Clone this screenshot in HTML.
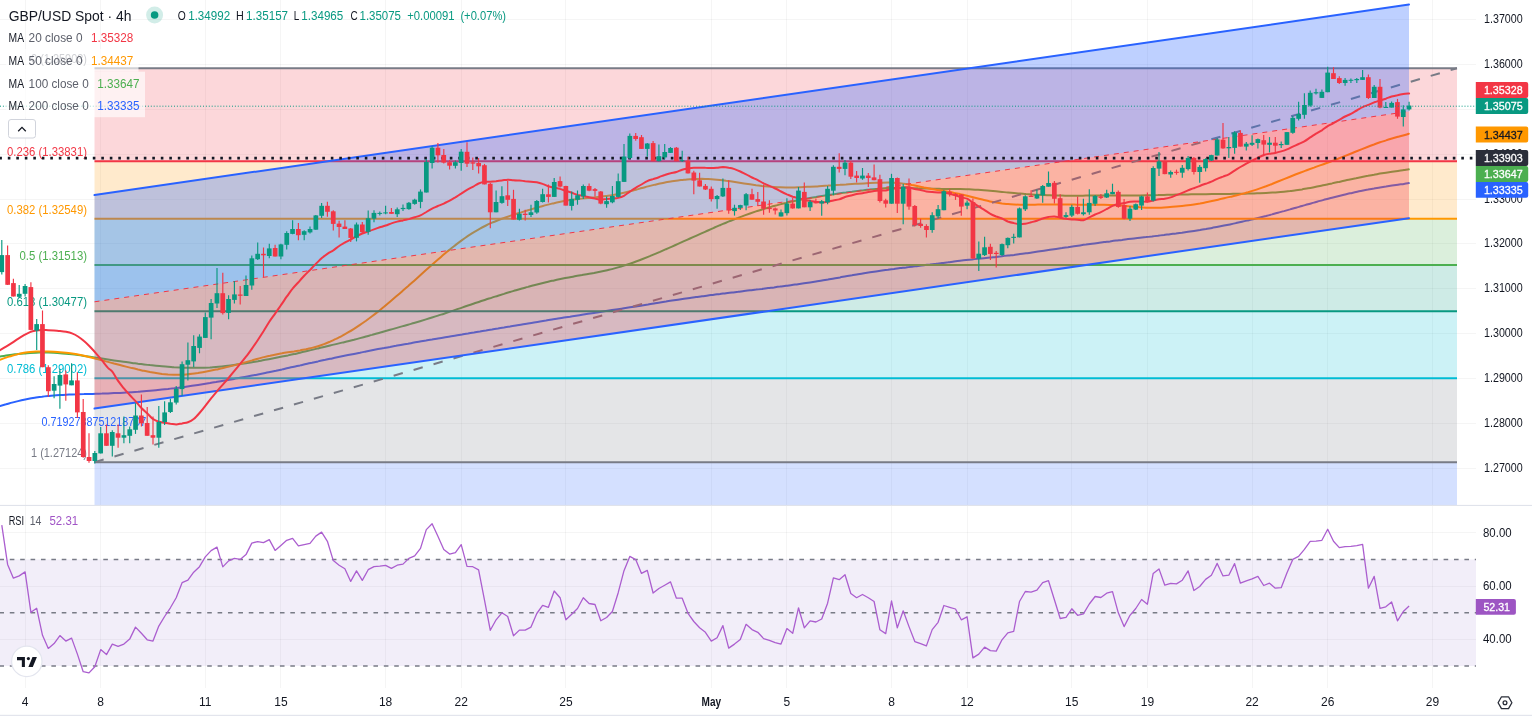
<!DOCTYPE html>
<html lang="en"><head><meta charset="utf-8"><title>GBP/USD Spot 4h</title>
<style>html,body{margin:0;padding:0;background:#fff;overflow:hidden}svg{display:block}text{font-family:'Liberation Sans', sans-serif;white-space:pre}</style>
</head><body>
<svg width="1536" height="718" viewBox="0 0 1536 718">
<rect width="1536" height="718" fill="#ffffff"/>
<defs><clipPath id="cm"><rect x="0" y="0" width="1476" height="505"/></clipPath><clipPath id="cr"><rect x="0" y="506" width="1476" height="183"/></clipPath></defs>
<g stroke="#131722" stroke-opacity="0.042" stroke-width="1" shape-rendering="crispEdges"><line x1="25.1" y1="0" x2="25.1" y2="688"/><line x1="100.7" y1="0" x2="100.7" y2="688"/><line x1="205.3" y1="0" x2="205.3" y2="688"/><line x1="280.9" y1="0" x2="280.9" y2="688"/><line x1="385.6" y1="0" x2="385.6" y2="688"/><line x1="461.2" y1="0" x2="461.2" y2="688"/><line x1="565.9" y1="0" x2="565.9" y2="688"/><line x1="711.3" y1="0" x2="711.3" y2="688"/><line x1="786.9" y1="0" x2="786.9" y2="688"/><line x1="891.5" y1="0" x2="891.5" y2="688"/><line x1="967.1" y1="0" x2="967.1" y2="688"/><line x1="1071.8" y1="0" x2="1071.8" y2="688"/><line x1="1147.4" y1="0" x2="1147.4" y2="688"/><line x1="1252.1" y1="0" x2="1252.1" y2="688"/><line x1="1327.7" y1="0" x2="1327.7" y2="688"/><line x1="1432.4" y1="0" x2="1432.4" y2="688"/><line x1="0" y1="19.4" x2="1476" y2="19.4"/><line x1="0" y1="64.3" x2="1476" y2="64.3"/><line x1="0" y1="109.2" x2="1476" y2="109.2"/><line x1="0" y1="154.1" x2="1476" y2="154.1"/><line x1="0" y1="199.0" x2="1476" y2="199.0"/><line x1="0" y1="243.9" x2="1476" y2="243.9"/><line x1="0" y1="288.8" x2="1476" y2="288.8"/><line x1="0" y1="333.7" x2="1476" y2="333.7"/><line x1="0" y1="378.6" x2="1476" y2="378.6"/><line x1="0" y1="423.5" x2="1476" y2="423.5"/><line x1="0" y1="468.4" x2="1476" y2="468.4"/><line x1="0" y1="532.9" x2="1476" y2="532.9"/><line x1="0" y1="586.1" x2="1476" y2="586.1"/><line x1="0" y1="639.4" x2="1476" y2="639.4"/></g>
<g clip-path="url(#cm)">
<path d="M0.0,406.0C1.0,405.7 4.0,404.8 6.0,404.3C8.0,403.7 10.0,403.2 12.0,402.6C14.0,402.1 16.0,401.6 18.0,401.1C20.0,400.6 22.0,400.1 24.0,399.7C26.0,399.3 28.0,398.9 30.0,398.5C32.0,398.2 34.0,397.8 36.0,397.5C38.0,397.2 40.0,396.9 42.0,396.7C44.0,396.4 46.0,396.2 48.0,396.0C50.0,395.8 52.0,395.7 54.0,395.5C56.0,395.3 58.0,395.2 60.0,395.1C62.0,395.0 64.0,394.8 66.0,394.7C68.0,394.6 70.0,394.6 72.0,394.5C74.0,394.4 76.0,394.3 78.0,394.3C80.0,394.2 82.0,394.1 84.0,394.1C86.0,394.0 88.0,394.0 90.0,393.9C92.0,393.9 94.0,393.8 96.0,393.7C98.0,393.7 100.0,393.6 102.0,393.6C104.0,393.5 106.0,393.4 108.0,393.4C110.0,393.3 112.0,393.2 114.0,393.1C116.0,393.0 118.0,393.0 120.0,392.9C122.0,392.8 124.0,392.7 126.0,392.5C128.0,392.4 130.0,392.3 132.0,392.2C134.0,392.1 136.0,391.9 138.0,391.8C140.0,391.6 142.0,391.5 144.0,391.3C146.0,391.2 148.0,391.0 150.0,390.8C152.0,390.6 154.0,390.4 156.0,390.2C158.0,390.1 160.0,389.8 162.0,389.6C164.0,389.4 166.0,389.2 168.0,389.0C170.0,388.7 172.0,388.5 174.0,388.3C176.0,388.0 178.0,387.8 180.0,387.5C182.0,387.2 184.0,387.0 186.0,386.7C188.0,386.4 190.0,386.1 192.0,385.8C194.0,385.5 196.0,385.2 198.0,384.9C200.0,384.6 202.0,384.3 204.0,384.0C206.0,383.7 208.0,383.4 210.0,383.1C212.0,382.7 214.0,382.4 216.0,382.1C218.0,381.7 220.0,381.4 222.0,381.0C224.0,380.7 226.0,380.3 228.0,380.0C230.0,379.6 232.0,379.3 234.0,378.9C236.0,378.5 238.0,378.2 240.0,377.8C242.0,377.4 244.0,377.1 246.0,376.7C248.0,376.3 250.0,375.9 252.0,375.5C254.0,375.2 256.0,374.8 258.0,374.4C260.0,374.0 262.0,373.6 264.0,373.2C266.0,372.8 268.0,372.3 270.0,371.9C272.0,371.5 274.0,371.1 276.0,370.7C278.0,370.2 280.0,369.8 282.0,369.4C284.0,368.9 286.0,368.5 288.0,368.0C290.0,367.6 292.0,367.1 294.0,366.7C296.0,366.3 298.0,365.8 300.0,365.4C302.0,364.9 304.0,364.5 306.0,364.0C308.0,363.6 310.0,363.1 312.0,362.7C314.0,362.2 316.0,361.8 318.0,361.4C320.0,360.9 322.0,360.5 324.0,360.1C326.0,359.6 328.0,359.2 330.0,358.8C332.0,358.4 334.0,357.9 336.0,357.5C338.0,357.1 340.0,356.7 342.0,356.3C344.0,355.9 346.0,355.5 348.0,355.1C350.0,354.7 352.0,354.3 354.0,353.9C356.0,353.5 358.0,353.1 360.0,352.7C362.0,352.2 364.0,351.9 366.0,351.5C368.0,351.1 370.0,350.7 372.0,350.3C374.0,349.9 376.0,349.5 378.0,349.1C380.0,348.7 382.0,348.3 384.0,348.0C386.0,347.6 388.0,347.2 390.0,346.9C392.0,346.5 394.0,346.1 396.0,345.8C398.0,345.4 400.0,345.1 402.0,344.7C404.0,344.3 406.0,344.0 408.0,343.7C410.0,343.3 412.0,343.0 414.0,342.6C416.0,342.3 418.0,341.9 420.0,341.6C422.0,341.3 424.0,340.9 426.0,340.6C428.0,340.2 430.0,339.9 432.0,339.6C434.0,339.2 436.0,338.9 438.0,338.5C440.0,338.2 442.0,337.9 444.0,337.5C446.0,337.2 448.0,336.8 450.0,336.5C452.0,336.2 454.0,335.8 456.0,335.5C458.0,335.2 460.0,334.8 462.0,334.5C464.0,334.1 466.0,333.8 468.0,333.5C470.0,333.1 472.0,332.8 474.0,332.5C476.0,332.1 478.0,331.8 480.0,331.5C482.0,331.1 484.0,330.8 486.0,330.5C488.0,330.1 490.0,329.8 492.0,329.5C494.0,329.1 496.0,328.8 498.0,328.5C500.0,328.1 502.0,327.8 504.0,327.5C506.0,327.1 508.0,326.8 510.0,326.5C512.0,326.1 514.0,325.8 516.0,325.5C518.0,325.2 520.0,324.8 522.0,324.5C524.0,324.2 526.0,323.8 528.0,323.5C530.0,323.2 532.0,322.9 534.0,322.5C536.0,322.2 538.0,321.9 540.0,321.5C542.0,321.2 544.0,320.9 546.0,320.6C548.0,320.2 550.0,319.9 552.0,319.6C554.0,319.3 556.0,318.9 558.0,318.6C560.0,318.3 562.0,318.0 564.0,317.6C566.0,317.3 568.0,317.0 570.0,316.7C572.0,316.3 574.0,316.0 576.0,315.7C578.0,315.4 580.0,315.1 582.0,314.7C584.0,314.4 586.0,314.1 588.0,313.8C590.0,313.5 592.0,313.2 594.0,312.9C596.0,312.6 598.0,312.2 600.0,311.9C602.0,311.6 604.0,311.3 606.0,311.0C608.0,310.7 610.0,310.4 612.0,310.1C614.0,309.8 616.0,309.5 618.0,309.2C620.0,308.9 622.0,308.6 624.0,308.2C626.0,307.9 628.0,307.6 630.0,307.3C632.0,307.0 634.0,306.7 636.0,306.4C638.0,306.1 640.0,305.7 642.0,305.4C644.0,305.1 646.0,304.8 648.0,304.5C650.0,304.1 652.0,303.8 654.0,303.5C656.0,303.2 658.0,302.8 660.0,302.5C662.0,302.2 664.0,301.9 666.0,301.6C668.0,301.2 670.0,300.9 672.0,300.6C674.0,300.3 676.0,300.0 678.0,299.7C680.0,299.4 682.0,299.1 684.0,298.8C686.0,298.5 688.0,298.2 690.0,297.9C692.0,297.6 694.0,297.4 696.0,297.1C698.0,296.8 700.0,296.6 702.0,296.3C704.0,296.0 706.0,295.8 708.0,295.5C710.0,295.2 712.0,295.0 714.0,294.7C716.0,294.5 718.0,294.2 720.0,294.0C722.0,293.7 724.0,293.5 726.0,293.2C728.0,293.0 730.0,292.8 732.0,292.5C734.0,292.3 736.0,292.0 738.0,291.8C740.0,291.5 742.0,291.3 744.0,291.0C746.0,290.8 748.0,290.6 750.0,290.3C752.0,290.1 754.0,289.8 756.0,289.6C758.0,289.3 760.0,289.1 762.0,288.9C764.0,288.6 766.0,288.4 768.0,288.1C770.0,287.9 772.0,287.6 774.0,287.4C776.0,287.1 778.0,286.8 780.0,286.6C782.0,286.3 784.0,286.1 786.0,285.8C788.0,285.5 790.0,285.3 792.0,285.0C794.0,284.7 796.0,284.5 798.0,284.2C800.0,283.9 802.0,283.6 804.0,283.3C806.0,283.0 808.0,282.7 810.0,282.4C812.0,282.1 814.0,281.8 816.0,281.5C818.0,281.2 820.0,280.8 822.0,280.5C824.0,280.2 826.0,279.8 828.0,279.5C830.0,279.1 832.0,278.8 834.0,278.4C836.0,278.1 838.0,277.7 840.0,277.4C842.0,277.0 844.0,276.7 846.0,276.3C848.0,276.0 850.0,275.6 852.0,275.3C854.0,274.9 856.0,274.6 858.0,274.2C860.0,273.9 862.0,273.6 864.0,273.2C866.0,272.9 868.0,272.6 870.0,272.3C872.0,272.0 874.0,271.7 876.0,271.4C878.0,271.1 880.0,270.8 882.0,270.5C884.0,270.2 886.0,269.9 888.0,269.7C890.0,269.4 892.0,269.1 894.0,268.9C896.0,268.6 898.0,268.4 900.0,268.1C902.0,267.9 904.0,267.6 906.0,267.4C908.0,267.1 910.0,266.9 912.0,266.7C914.0,266.4 916.0,266.2 918.0,265.9C920.0,265.7 922.0,265.5 924.0,265.2C926.0,265.0 928.0,264.7 930.0,264.5C932.0,264.2 934.0,264.0 936.0,263.8C938.0,263.5 940.0,263.3 942.0,263.0C944.0,262.8 946.0,262.5 948.0,262.3C950.0,262.0 952.0,261.8 954.0,261.5C956.0,261.3 958.0,261.1 960.0,260.8C962.0,260.6 964.0,260.4 966.0,260.1C968.0,259.9 970.0,259.7 972.0,259.5C974.0,259.2 976.0,259.0 978.0,258.8C980.0,258.6 982.0,258.4 984.0,258.2C986.0,258.0 988.0,257.8 990.0,257.6C992.0,257.4 994.0,257.1 996.0,256.9C998.0,256.7 1000.0,256.5 1002.0,256.3C1004.0,256.0 1006.0,255.8 1008.0,255.6C1010.0,255.4 1012.0,255.1 1014.0,254.9C1016.0,254.6 1018.0,254.4 1020.0,254.1C1022.0,253.9 1024.0,253.6 1026.0,253.3C1028.0,253.0 1030.0,252.8 1032.0,252.5C1034.0,252.2 1036.0,251.9 1038.0,251.6C1040.0,251.3 1042.0,251.0 1044.0,250.7C1046.0,250.4 1048.0,250.1 1050.0,249.8C1052.0,249.5 1054.0,249.2 1056.0,248.9C1058.0,248.6 1060.0,248.3 1062.0,248.0C1064.0,247.7 1066.0,247.4 1068.0,247.2C1070.0,246.9 1072.0,246.6 1074.0,246.3C1076.0,246.0 1078.0,245.7 1080.0,245.4C1082.0,245.1 1084.0,244.8 1086.0,244.6C1088.0,244.3 1090.0,244.0 1092.0,243.7C1094.0,243.5 1096.0,243.2 1098.0,242.9C1100.0,242.6 1102.0,242.4 1104.0,242.1C1106.0,241.9 1108.0,241.6 1110.0,241.4C1112.0,241.1 1114.0,240.8 1116.0,240.6C1118.0,240.4 1120.0,240.1 1122.0,239.9C1124.0,239.6 1126.0,239.4 1128.0,239.1C1130.0,238.9 1132.0,238.7 1134.0,238.4C1136.0,238.2 1138.0,238.0 1140.0,237.7C1142.0,237.5 1144.0,237.3 1146.0,237.1C1148.0,236.8 1150.0,236.6 1152.0,236.4C1154.0,236.1 1156.0,235.9 1158.0,235.7C1160.0,235.4 1162.0,235.2 1164.0,235.0C1166.0,234.7 1168.0,234.5 1170.0,234.2C1172.0,234.0 1174.0,233.7 1176.0,233.5C1178.0,233.2 1180.0,232.9 1182.0,232.7C1184.0,232.4 1186.0,232.1 1188.0,231.8C1190.0,231.5 1192.0,231.2 1194.0,230.9C1196.0,230.6 1198.0,230.3 1200.0,230.0C1202.0,229.6 1204.0,229.3 1206.0,229.0C1208.0,228.6 1210.0,228.3 1212.0,227.9C1214.0,227.5 1216.0,227.2 1218.0,226.8C1220.0,226.4 1222.0,226.0 1224.0,225.6C1226.0,225.2 1228.0,224.8 1230.0,224.4C1232.0,224.0 1234.0,223.6 1236.0,223.1C1238.0,222.7 1240.0,222.3 1242.0,221.8C1244.0,221.4 1246.0,220.9 1248.0,220.4C1250.0,220.0 1252.0,219.5 1254.0,219.0C1256.0,218.5 1258.0,218.0 1260.0,217.5C1262.0,217.0 1264.0,216.5 1266.0,216.0C1268.0,215.4 1270.0,214.9 1272.0,214.4C1274.0,213.8 1276.0,213.3 1278.0,212.7C1280.0,212.2 1282.0,211.6 1284.0,211.1C1286.0,210.5 1288.0,209.9 1290.0,209.4C1292.0,208.8 1294.0,208.3 1296.0,207.7C1298.0,207.1 1300.0,206.6 1302.0,206.0C1304.0,205.4 1306.0,204.9 1308.0,204.3C1310.0,203.7 1312.0,203.2 1314.0,202.6C1316.0,202.0 1318.0,201.5 1320.0,200.9C1322.0,200.4 1324.0,199.8 1326.0,199.3C1328.0,198.8 1330.0,198.2 1332.0,197.7C1334.0,197.2 1336.0,196.7 1338.0,196.2C1340.0,195.7 1342.0,195.2 1344.0,194.7C1346.0,194.2 1348.0,193.8 1350.0,193.3C1352.0,192.9 1354.0,192.4 1356.0,192.0C1358.0,191.6 1360.0,191.1 1362.0,190.7C1364.0,190.3 1366.0,189.9 1368.0,189.6C1370.0,189.2 1372.0,188.8 1374.0,188.5C1376.0,188.1 1378.0,187.8 1380.0,187.4C1382.0,187.1 1384.0,186.8 1386.0,186.5C1388.0,186.2 1390.0,185.9 1392.0,185.6C1394.0,185.3 1396.0,185.0 1398.0,184.7C1400.0,184.4 1402.2,184.2 1404.0,183.9C1405.8,183.6 1408.0,183.2 1408.8,183.1" fill="none" stroke="#2962ff" stroke-width="2" stroke-linejoin="round" stroke-linecap="round"/>
<path d="M0.0,356.5C1.0,356.3 4.0,355.9 6.0,355.6C8.0,355.3 10.0,355.0 12.0,354.7C14.0,354.5 16.0,354.2 18.0,354.0C20.0,353.8 22.0,353.6 24.0,353.4C26.0,353.2 28.0,353.1 30.0,352.9C32.0,352.8 34.0,352.7 36.0,352.7C38.0,352.6 40.0,352.6 42.0,352.5C44.0,352.5 46.0,352.6 48.0,352.6C50.0,352.6 52.0,352.7 54.0,352.8C56.0,352.9 58.0,353.0 60.0,353.2C62.0,353.3 64.0,353.5 66.0,353.7C68.0,353.9 70.0,354.1 72.0,354.3C74.0,354.5 76.0,354.8 78.0,355.1C80.0,355.3 82.0,355.6 84.0,355.9C86.0,356.2 88.0,356.5 90.0,356.8C92.0,357.1 94.0,357.4 96.0,357.7C98.0,358.0 100.0,358.3 102.0,358.6C104.0,358.9 106.0,359.2 108.0,359.5C110.0,359.8 112.0,360.1 114.0,360.4C116.0,360.7 118.0,361.0 120.0,361.3C122.0,361.6 124.0,361.9 126.0,362.1C128.0,362.4 130.0,362.7 132.0,362.9C134.0,363.2 136.0,363.4 138.0,363.7C140.0,363.9 142.0,364.2 144.0,364.4C146.0,364.6 148.0,364.8 150.0,365.1C152.0,365.3 154.0,365.5 156.0,365.7C158.0,365.9 160.0,366.1 162.0,366.2C164.0,366.4 166.0,366.6 168.0,366.7C170.0,366.9 172.0,367.0 174.0,367.2C176.0,367.3 178.0,367.4 180.0,367.5C182.0,367.6 184.0,367.7 186.0,367.7C188.0,367.8 190.0,367.8 192.0,367.8C194.0,367.9 196.0,367.8 198.0,367.8C200.0,367.8 202.0,367.7 204.0,367.7C206.0,367.6 208.0,367.5 210.0,367.4C212.0,367.2 214.0,367.1 216.0,366.9C218.0,366.8 220.0,366.6 222.0,366.4C224.0,366.2 226.0,366.0 228.0,365.7C230.0,365.5 232.0,365.2 234.0,364.9C236.0,364.7 238.0,364.4 240.0,364.1C242.0,363.8 244.0,363.5 246.0,363.2C248.0,362.9 250.0,362.5 252.0,362.2C254.0,361.9 256.0,361.5 258.0,361.2C260.0,360.8 262.0,360.5 264.0,360.1C266.0,359.7 268.0,359.4 270.0,359.0C272.0,358.6 274.0,358.2 276.0,357.8C278.0,357.4 280.0,357.0 282.0,356.6C284.0,356.2 286.0,355.8 288.0,355.4C290.0,354.9 292.0,354.5 294.0,354.1C296.0,353.6 298.0,353.2 300.0,352.7C302.0,352.3 304.0,351.8 306.0,351.3C308.0,350.8 310.0,350.4 312.0,349.9C314.0,349.4 316.0,348.9 318.0,348.4C320.0,348.0 322.0,347.5 324.0,347.0C326.0,346.5 328.0,346.0 330.0,345.5C332.0,345.1 334.0,344.6 336.0,344.1C338.0,343.6 340.0,343.1 342.0,342.6C344.0,342.1 346.0,341.7 348.0,341.2C350.0,340.7 352.0,340.2 354.0,339.7C356.0,339.1 358.0,338.6 360.0,338.1C362.0,337.6 364.0,337.1 366.0,336.5C368.0,336.0 370.0,335.4 372.0,334.9C374.0,334.3 376.0,333.8 378.0,333.2C380.0,332.7 382.0,332.1 384.0,331.5C386.0,331.0 388.0,330.4 390.0,329.8C392.0,329.3 394.0,328.7 396.0,328.1C398.0,327.6 400.0,327.0 402.0,326.4C404.0,325.9 406.0,325.3 408.0,324.7C410.0,324.1 412.0,323.6 414.0,323.0C416.0,322.4 418.0,321.8 420.0,321.2C422.0,320.6 424.0,320.0 426.0,319.4C428.0,318.8 430.0,318.2 432.0,317.5C434.0,316.9 436.0,316.3 438.0,315.6C440.0,315.0 442.0,314.3 444.0,313.7C446.0,313.0 448.0,312.3 450.0,311.6C452.0,311.0 454.0,310.3 456.0,309.6C458.0,308.9 460.0,308.3 462.0,307.6C464.0,306.9 466.0,306.2 468.0,305.5C470.0,304.9 472.0,304.2 474.0,303.5C476.0,302.8 478.0,302.2 480.0,301.5C482.0,300.8 484.0,300.2 486.0,299.5C488.0,298.9 490.0,298.2 492.0,297.6C494.0,297.0 496.0,296.3 498.0,295.7C500.0,295.1 502.0,294.5 504.0,293.9C506.0,293.2 508.0,292.6 510.0,292.0C512.0,291.4 514.0,290.9 516.0,290.3C518.0,289.7 520.0,289.1 522.0,288.5C524.0,288.0 526.0,287.4 528.0,286.9C530.0,286.3 532.0,285.8 534.0,285.2C536.0,284.7 538.0,284.2 540.0,283.7C542.0,283.2 544.0,282.7 546.0,282.2C548.0,281.7 550.0,281.3 552.0,280.8C554.0,280.4 556.0,279.9 558.0,279.5C560.0,279.1 562.0,278.7 564.0,278.3C566.0,277.9 568.0,277.6 570.0,277.2C572.0,276.8 574.0,276.5 576.0,276.1C578.0,275.8 580.0,275.4 582.0,275.1C584.0,274.7 586.0,274.4 588.0,274.0C590.0,273.7 592.0,273.3 594.0,273.0C596.0,272.6 598.0,272.2 600.0,271.8C602.0,271.4 604.0,271.0 606.0,270.5C608.0,270.0 610.0,269.6 612.0,269.1C614.0,268.6 616.0,268.0 618.0,267.4C620.0,266.9 622.0,266.3 624.0,265.6C626.0,265.0 628.0,264.4 630.0,263.7C632.0,263.0 634.0,262.3 636.0,261.5C638.0,260.8 640.0,260.1 642.0,259.3C644.0,258.5 646.0,257.7 648.0,256.9C650.0,256.1 652.0,255.3 654.0,254.4C656.0,253.6 658.0,252.7 660.0,251.9C662.0,251.0 664.0,250.1 666.0,249.2C668.0,248.4 670.0,247.5 672.0,246.6C674.0,245.7 676.0,244.8 678.0,243.9C680.0,243.0 682.0,242.1 684.0,241.2C686.0,240.3 688.0,239.4 690.0,238.5C692.0,237.6 694.0,236.7 696.0,235.8C698.0,234.9 700.0,234.0 702.0,233.1C704.0,232.2 706.0,231.4 708.0,230.5C710.0,229.6 712.0,228.7 714.0,227.8C716.0,227.0 718.0,226.1 720.0,225.2C722.0,224.4 724.0,223.5 726.0,222.7C728.0,221.9 730.0,221.0 732.0,220.2C734.0,219.4 736.0,218.6 738.0,217.9C740.0,217.1 742.0,216.3 744.0,215.6C746.0,214.9 748.0,214.2 750.0,213.5C752.0,212.8 754.0,212.1 756.0,211.4C758.0,210.8 760.0,210.1 762.0,209.5C764.0,208.9 766.0,208.3 768.0,207.7C770.0,207.1 772.0,206.6 774.0,206.0C776.0,205.5 778.0,205.0 780.0,204.4C782.0,203.9 784.0,203.4 786.0,203.0C788.0,202.5 790.0,202.0 792.0,201.6C794.0,201.1 796.0,200.7 798.0,200.3C800.0,199.9 802.0,199.5 804.0,199.1C806.0,198.7 808.0,198.4 810.0,198.0C812.0,197.7 814.0,197.3 816.0,197.0C818.0,196.6 820.0,196.3 822.0,196.0C824.0,195.7 826.0,195.4 828.0,195.1C830.0,194.8 832.0,194.5 834.0,194.2C836.0,193.9 838.0,193.6 840.0,193.3C842.0,193.0 844.0,192.7 846.0,192.5C848.0,192.2 850.0,191.9 852.0,191.7C854.0,191.4 856.0,191.1 858.0,190.9C860.0,190.7 862.0,190.4 864.0,190.2C866.0,190.0 868.0,189.7 870.0,189.5C872.0,189.3 874.0,189.1 876.0,188.9C878.0,188.8 880.0,188.6 882.0,188.5C884.0,188.3 886.0,188.2 888.0,188.1C890.0,188.0 892.0,187.9 894.0,187.9C896.0,187.8 898.0,187.8 900.0,187.8C902.0,187.8 904.0,187.8 906.0,187.8C908.0,187.8 910.0,187.9 912.0,188.0C914.0,188.0 916.0,188.1 918.0,188.2C920.0,188.2 922.0,188.3 924.0,188.4C926.0,188.5 928.0,188.6 930.0,188.6C932.0,188.7 934.0,188.7 936.0,188.8C938.0,188.8 940.0,188.9 942.0,188.9C944.0,188.9 946.0,189.0 948.0,189.0C950.0,189.0 952.0,189.0 954.0,189.0C956.0,189.1 958.0,189.1 960.0,189.1C962.0,189.2 964.0,189.2 966.0,189.2C968.0,189.3 970.0,189.4 972.0,189.5C974.0,189.6 976.0,189.7 978.0,189.8C980.0,189.9 982.0,190.1 984.0,190.2C986.0,190.4 988.0,190.6 990.0,190.7C992.0,190.9 994.0,191.1 996.0,191.3C998.0,191.5 1000.0,191.7 1002.0,191.9C1004.0,192.1 1006.0,192.4 1008.0,192.5C1010.0,192.7 1012.0,192.9 1014.0,193.1C1016.0,193.3 1018.0,193.5 1020.0,193.6C1022.0,193.8 1024.0,193.9 1026.0,194.1C1028.0,194.2 1030.0,194.4 1032.0,194.5C1034.0,194.6 1036.0,194.7 1038.0,194.8C1040.0,194.9 1042.0,195.0 1044.0,195.1C1046.0,195.2 1048.0,195.2 1050.0,195.3C1052.0,195.4 1054.0,195.4 1056.0,195.5C1058.0,195.5 1060.0,195.6 1062.0,195.6C1064.0,195.6 1066.0,195.7 1068.0,195.7C1070.0,195.7 1072.0,195.7 1074.0,195.7C1076.0,195.7 1078.0,195.7 1080.0,195.7C1082.0,195.7 1084.0,195.6 1086.0,195.6C1088.0,195.6 1090.0,195.6 1092.0,195.6C1094.0,195.5 1096.0,195.5 1098.0,195.5C1100.0,195.5 1102.0,195.4 1104.0,195.4C1106.0,195.4 1108.0,195.4 1110.0,195.4C1112.0,195.4 1114.0,195.4 1116.0,195.4C1118.0,195.4 1120.0,195.4 1122.0,195.4C1124.0,195.4 1126.0,195.4 1128.0,195.4C1130.0,195.4 1132.0,195.4 1134.0,195.4C1136.0,195.4 1138.0,195.4 1140.0,195.4C1142.0,195.3 1144.0,195.3 1146.0,195.3C1148.0,195.3 1150.0,195.2 1152.0,195.2C1154.0,195.1 1156.0,195.1 1158.0,195.1C1160.0,195.0 1162.0,195.0 1164.0,194.9C1166.0,194.9 1168.0,194.8 1170.0,194.8C1172.0,194.7 1174.0,194.7 1176.0,194.6C1178.0,194.6 1180.0,194.6 1182.0,194.5C1184.0,194.5 1186.0,194.4 1188.0,194.4C1190.0,194.4 1192.0,194.3 1194.0,194.3C1196.0,194.3 1198.0,194.3 1200.0,194.2C1202.0,194.2 1204.0,194.2 1206.0,194.2C1208.0,194.1 1210.0,194.1 1212.0,194.1C1214.0,194.1 1216.0,194.1 1218.0,194.0C1220.0,194.0 1222.0,194.0 1224.0,194.0C1226.0,194.0 1228.0,193.9 1230.0,193.9C1232.0,193.9 1234.0,193.8 1236.0,193.8C1238.0,193.8 1240.0,193.7 1242.0,193.7C1244.0,193.7 1246.0,193.6 1248.0,193.6C1250.0,193.5 1252.0,193.5 1254.0,193.4C1256.0,193.3 1258.0,193.3 1260.0,193.2C1262.0,193.1 1264.0,193.0 1266.0,192.9C1268.0,192.8 1270.0,192.7 1272.0,192.6C1274.0,192.5 1276.0,192.4 1278.0,192.2C1280.0,192.1 1282.0,191.9 1284.0,191.7C1286.0,191.5 1288.0,191.3 1290.0,191.1C1292.0,190.8 1294.0,190.6 1296.0,190.3C1298.0,190.0 1300.0,189.7 1302.0,189.4C1304.0,189.0 1306.0,188.7 1308.0,188.3C1310.0,188.0 1312.0,187.6 1314.0,187.2C1316.0,186.8 1318.0,186.4 1320.0,186.0C1322.0,185.6 1324.0,185.1 1326.0,184.7C1328.0,184.3 1330.0,183.8 1332.0,183.4C1334.0,182.9 1336.0,182.5 1338.0,182.1C1340.0,181.6 1342.0,181.2 1344.0,180.7C1346.0,180.3 1348.0,179.8 1350.0,179.4C1352.0,179.0 1354.0,178.6 1356.0,178.2C1358.0,177.7 1360.0,177.3 1362.0,176.9C1364.0,176.5 1366.0,176.1 1368.0,175.8C1370.0,175.4 1372.0,175.0 1374.0,174.7C1376.0,174.3 1378.0,174.0 1380.0,173.6C1382.0,173.3 1384.0,173.0 1386.0,172.7C1388.0,172.4 1390.0,172.1 1392.0,171.8C1394.0,171.5 1396.0,171.2 1398.0,170.9C1400.0,170.6 1402.2,170.4 1404.0,170.1C1405.8,169.8 1408.0,169.4 1408.8,169.3" fill="none" stroke="#4caf50" stroke-width="2" stroke-linejoin="round" stroke-linecap="round"/>
<path d="M0.0,359.7C1.0,359.4 4.0,358.3 6.0,357.6C8.0,357.0 10.0,356.3 12.0,355.7C14.0,355.1 16.0,354.6 18.0,354.1C20.0,353.6 22.0,353.2 24.0,352.8C26.0,352.5 28.0,352.2 30.0,352.0C32.0,351.8 34.0,351.6 36.0,351.5C38.0,351.4 40.0,351.4 42.0,351.4C44.0,351.4 46.0,351.4 48.0,351.5C50.0,351.6 52.0,351.7 54.0,351.8C56.0,351.9 58.0,352.0 60.0,352.2C62.0,352.4 64.0,352.6 66.0,352.8C68.0,353.0 70.0,353.3 72.0,353.6C74.0,353.9 76.0,354.2 78.0,354.6C80.0,355.0 82.0,355.4 84.0,355.8C86.0,356.3 88.0,356.7 90.0,357.2C92.0,357.7 94.0,358.2 96.0,358.7C98.0,359.2 100.0,359.8 102.0,360.3C104.0,360.8 106.0,361.4 108.0,361.9C110.0,362.4 112.0,362.9 114.0,363.5C116.0,364.0 118.0,364.5 120.0,365.0C122.0,365.6 124.0,366.1 126.0,366.6C128.0,367.1 130.0,367.6 132.0,368.1C134.0,368.5 136.0,369.0 138.0,369.5C140.0,369.9 142.0,370.4 144.0,370.8C146.0,371.2 148.0,371.6 150.0,372.0C152.0,372.3 154.0,372.7 156.0,373.0C158.0,373.3 160.0,373.6 162.0,373.9C164.0,374.1 166.0,374.3 168.0,374.5C170.0,374.6 172.0,374.7 174.0,374.8C176.0,374.8 178.0,374.8 180.0,374.8C182.0,374.7 184.0,374.6 186.0,374.4C188.0,374.3 190.0,374.1 192.0,373.8C194.0,373.6 196.0,373.3 198.0,373.0C200.0,372.6 202.0,372.3 204.0,371.9C206.0,371.6 208.0,371.2 210.0,370.8C212.0,370.4 214.0,370.0 216.0,369.6C218.0,369.2 220.0,368.7 222.0,368.3C224.0,367.8 226.0,367.4 228.0,366.9C230.0,366.4 232.0,365.9 234.0,365.4C236.0,364.9 238.0,364.3 240.0,363.8C242.0,363.2 244.0,362.7 246.0,362.1C248.0,361.5 250.0,360.9 252.0,360.4C254.0,359.8 256.0,359.3 258.0,358.7C260.0,358.2 262.0,357.6 264.0,357.1C266.0,356.6 268.0,356.1 270.0,355.7C272.0,355.2 274.0,354.8 276.0,354.4C278.0,354.0 280.0,353.6 282.0,353.3C284.0,352.9 286.0,352.6 288.0,352.3C290.0,352.0 292.0,351.7 294.0,351.4C296.0,351.0 298.0,350.7 300.0,350.4C302.0,350.0 304.0,349.7 306.0,349.3C308.0,348.8 310.0,348.4 312.0,347.9C314.0,347.4 316.0,346.8 318.0,346.2C320.0,345.6 322.0,344.9 324.0,344.1C326.0,343.4 328.0,342.5 330.0,341.7C332.0,340.8 334.0,339.8 336.0,338.9C338.0,337.9 340.0,336.8 342.0,335.8C344.0,334.7 346.0,333.6 348.0,332.4C350.0,331.3 352.0,330.1 354.0,328.8C356.0,327.6 358.0,326.3 360.0,324.9C362.0,323.6 364.0,322.2 366.0,320.8C368.0,319.3 370.0,317.8 372.0,316.3C374.0,314.8 376.0,313.2 378.0,311.6C380.0,310.0 382.0,308.3 384.0,306.7C386.0,305.0 388.0,303.4 390.0,301.7C392.0,300.0 394.0,298.3 396.0,296.6C398.0,294.9 400.0,293.2 402.0,291.4C404.0,289.7 406.0,287.9 408.0,286.2C410.0,284.4 412.0,282.7 414.0,280.9C416.0,279.1 418.0,277.3 420.0,275.5C422.0,273.7 424.0,271.9 426.0,270.1C428.0,268.4 430.0,266.6 432.0,264.8C434.0,263.0 436.0,261.2 438.0,259.5C440.0,257.8 442.0,256.0 444.0,254.3C446.0,252.7 448.0,251.0 450.0,249.4C452.0,247.7 454.0,246.2 456.0,244.6C458.0,243.1 460.0,241.6 462.0,240.1C464.0,238.7 466.0,237.3 468.0,235.9C470.0,234.6 472.0,233.3 474.0,232.1C476.0,230.9 478.0,229.7 480.0,228.6C482.0,227.5 484.0,226.5 486.0,225.5C488.0,224.5 490.0,223.6 492.0,222.7C494.0,221.8 496.0,221.0 498.0,220.2C500.0,219.4 502.0,218.7 504.0,218.0C506.0,217.3 508.0,216.6 510.0,215.9C512.0,215.3 514.0,214.6 516.0,214.0C518.0,213.4 520.0,212.7 522.0,212.1C524.0,211.5 526.0,210.9 528.0,210.3C530.0,209.7 532.0,209.1 534.0,208.5C536.0,207.9 538.0,207.3 540.0,206.8C542.0,206.2 544.0,205.7 546.0,205.1C548.0,204.6 550.0,204.1 552.0,203.6C554.0,203.2 556.0,202.7 558.0,202.3C560.0,201.9 562.0,201.5 564.0,201.1C566.0,200.7 568.0,200.4 570.0,200.1C572.0,199.8 574.0,199.5 576.0,199.2C578.0,199.0 580.0,198.8 582.0,198.6C584.0,198.3 586.0,198.1 588.0,198.0C590.0,197.8 592.0,197.6 594.0,197.4C596.0,197.2 598.0,197.0 600.0,196.8C602.0,196.6 604.0,196.4 606.0,196.1C608.0,195.8 610.0,195.6 612.0,195.2C614.0,194.9 616.0,194.5 618.0,194.1C620.0,193.7 622.0,193.3 624.0,192.8C626.0,192.3 628.0,191.8 630.0,191.3C632.0,190.8 634.0,190.2 636.0,189.7C638.0,189.1 640.0,188.6 642.0,188.0C644.0,187.5 646.0,186.9 648.0,186.4C650.0,185.9 652.0,185.4 654.0,184.9C656.0,184.4 658.0,184.0 660.0,183.5C662.0,183.1 664.0,182.7 666.0,182.3C668.0,182.0 670.0,181.6 672.0,181.3C674.0,181.0 676.0,180.7 678.0,180.4C680.0,180.2 682.0,179.9 684.0,179.7C686.0,179.5 688.0,179.4 690.0,179.2C692.0,179.1 694.0,179.0 696.0,178.9C698.0,178.8 700.0,178.8 702.0,178.8C704.0,178.9 706.0,178.9 708.0,179.0C710.0,179.1 712.0,179.2 714.0,179.4C716.0,179.6 718.0,179.8 720.0,180.0C722.0,180.2 724.0,180.5 726.0,180.8C728.0,181.0 730.0,181.3 732.0,181.6C734.0,181.9 736.0,182.2 738.0,182.5C740.0,182.8 742.0,183.1 744.0,183.4C746.0,183.7 748.0,184.0 750.0,184.3C752.0,184.6 754.0,184.9 756.0,185.2C758.0,185.4 760.0,185.7 762.0,186.0C764.0,186.2 766.0,186.4 768.0,186.6C770.0,186.8 772.0,187.0 774.0,187.1C776.0,187.2 778.0,187.3 780.0,187.3C782.0,187.4 784.0,187.4 786.0,187.4C788.0,187.4 790.0,187.4 792.0,187.4C794.0,187.4 796.0,187.3 798.0,187.2C800.0,187.2 802.0,187.1 804.0,187.0C806.0,186.9 808.0,186.8 810.0,186.7C812.0,186.6 814.0,186.5 816.0,186.4C818.0,186.3 820.0,186.1 822.0,186.0C824.0,185.9 826.0,185.7 828.0,185.6C830.0,185.4 832.0,185.3 834.0,185.2C836.0,185.0 838.0,184.9 840.0,184.8C842.0,184.6 844.0,184.5 846.0,184.4C848.0,184.2 850.0,184.1 852.0,184.0C854.0,183.9 856.0,183.8 858.0,183.7C860.0,183.6 862.0,183.5 864.0,183.4C866.0,183.3 868.0,183.2 870.0,183.1C872.0,183.0 874.0,182.9 876.0,182.8C878.0,182.8 880.0,182.7 882.0,182.7C884.0,182.6 886.0,182.6 888.0,182.6C890.0,182.6 892.0,182.7 894.0,182.8C896.0,182.9 898.0,183.0 900.0,183.2C902.0,183.4 904.0,183.6 906.0,183.9C908.0,184.2 910.0,184.6 912.0,185.0C914.0,185.3 916.0,185.8 918.0,186.2C920.0,186.6 922.0,187.0 924.0,187.5C926.0,187.9 928.0,188.3 930.0,188.7C932.0,189.1 934.0,189.4 936.0,189.8C938.0,190.1 940.0,190.5 942.0,190.8C944.0,191.1 946.0,191.5 948.0,191.8C950.0,192.2 952.0,192.5 954.0,192.9C956.0,193.3 958.0,193.7 960.0,194.1C962.0,194.6 964.0,195.0 966.0,195.5C968.0,196.0 970.0,196.5 972.0,197.0C974.0,197.5 976.0,198.0 978.0,198.5C980.0,199.0 982.0,199.6 984.0,200.0C986.0,200.5 988.0,201.0 990.0,201.4C992.0,201.8 994.0,202.2 996.0,202.6C998.0,202.9 1000.0,203.2 1002.0,203.5C1004.0,203.7 1006.0,204.0 1008.0,204.1C1010.0,204.3 1012.0,204.4 1014.0,204.5C1016.0,204.6 1018.0,204.7 1020.0,204.7C1022.0,204.8 1024.0,204.8 1026.0,204.8C1028.0,204.8 1030.0,204.7 1032.0,204.7C1034.0,204.7 1036.0,204.6 1038.0,204.6C1040.0,204.6 1042.0,204.6 1044.0,204.5C1046.0,204.5 1048.0,204.5 1050.0,204.5C1052.0,204.5 1054.0,204.4 1056.0,204.4C1058.0,204.4 1060.0,204.4 1062.0,204.5C1064.0,204.5 1066.0,204.5 1068.0,204.5C1070.0,204.5 1072.0,204.6 1074.0,204.6C1076.0,204.6 1078.0,204.7 1080.0,204.7C1082.0,204.7 1084.0,204.7 1086.0,204.8C1088.0,204.8 1090.0,204.8 1092.0,204.8C1094.0,204.8 1096.0,204.8 1098.0,204.8C1100.0,204.8 1102.0,204.8 1104.0,204.8C1106.0,204.8 1108.0,204.8 1110.0,204.9C1112.0,205.0 1114.0,205.0 1116.0,205.2C1118.0,205.3 1120.0,205.4 1122.0,205.6C1124.0,205.8 1126.0,206.0 1128.0,206.2C1130.0,206.4 1132.0,206.6 1134.0,206.8C1136.0,207.0 1138.0,207.2 1140.0,207.3C1142.0,207.5 1144.0,207.6 1146.0,207.7C1148.0,207.8 1150.0,207.8 1152.0,207.8C1154.0,207.8 1156.0,207.8 1158.0,207.7C1160.0,207.7 1162.0,207.6 1164.0,207.4C1166.0,207.3 1168.0,207.2 1170.0,207.0C1172.0,206.9 1174.0,206.7 1176.0,206.5C1178.0,206.3 1180.0,206.1 1182.0,205.9C1184.0,205.7 1186.0,205.5 1188.0,205.2C1190.0,205.0 1192.0,204.7 1194.0,204.4C1196.0,204.1 1198.0,203.8 1200.0,203.5C1202.0,203.1 1204.0,202.7 1206.0,202.3C1208.0,201.9 1210.0,201.5 1212.0,201.1C1214.0,200.7 1216.0,200.2 1218.0,199.7C1220.0,199.3 1222.0,198.8 1224.0,198.3C1226.0,197.9 1228.0,197.4 1230.0,196.9C1232.0,196.4 1234.0,196.0 1236.0,195.5C1238.0,195.0 1240.0,194.5 1242.0,193.9C1244.0,193.4 1246.0,192.8 1248.0,192.3C1250.0,191.7 1252.0,191.1 1254.0,190.4C1256.0,189.8 1258.0,189.1 1260.0,188.4C1262.0,187.7 1264.0,187.0 1266.0,186.3C1268.0,185.5 1270.0,184.7 1272.0,184.0C1274.0,183.2 1276.0,182.4 1278.0,181.5C1280.0,180.7 1282.0,179.9 1284.0,179.1C1286.0,178.3 1288.0,177.5 1290.0,176.7C1292.0,175.9 1294.0,175.1 1296.0,174.3C1298.0,173.5 1300.0,172.7 1302.0,172.0C1304.0,171.2 1306.0,170.5 1308.0,169.7C1310.0,169.0 1312.0,168.3 1314.0,167.6C1316.0,166.8 1318.0,166.1 1320.0,165.4C1322.0,164.7 1324.0,164.0 1326.0,163.2C1328.0,162.5 1330.0,161.8 1332.0,161.0C1334.0,160.3 1336.0,159.5 1338.0,158.8C1340.0,158.0 1342.0,157.2 1344.0,156.4C1346.0,155.6 1348.0,154.8 1350.0,154.0C1352.0,153.2 1354.0,152.3 1356.0,151.5C1358.0,150.7 1360.0,149.9 1362.0,149.1C1364.0,148.3 1366.0,147.5 1368.0,146.7C1370.0,145.9 1372.0,145.2 1374.0,144.5C1376.0,143.7 1378.0,143.0 1380.0,142.3C1382.0,141.7 1384.0,141.0 1386.0,140.4C1388.0,139.7 1390.0,139.1 1392.0,138.5C1394.0,138.0 1396.0,137.4 1398.0,136.8C1400.0,136.3 1402.2,135.8 1404.0,135.2C1405.8,134.7 1408.0,134.0 1408.8,133.7" fill="none" stroke="#ff9800" stroke-width="2" stroke-linejoin="round" stroke-linecap="round"/>
<rect x="94.5" y="68.3" width="1362.5" height="93.0" fill="#f23645" fill-opacity="0.2"/>
<rect x="94.5" y="161.3" width="1362.5" height="57.5" fill="#ff9800" fill-opacity="0.2"/>
<rect x="94.5" y="218.8" width="1362.5" height="46.2" fill="#4caf50" fill-opacity="0.2"/>
<rect x="94.5" y="265.0" width="1362.5" height="46.3" fill="#089981" fill-opacity="0.2"/>
<rect x="94.5" y="311.3" width="1362.5" height="67.0" fill="#00bcd4" fill-opacity="0.2"/>
<rect x="94.5" y="378.3" width="1362.5" height="83.9" fill="#787b86" fill-opacity="0.2"/>
<rect x="94.5" y="462.2" width="1362.5" height="44.8" fill="#2962ff" fill-opacity="0.2"/>
<line x1="94.5" y1="68.3" x2="1457" y2="68.3" stroke="#787b86" stroke-width="2"/>
<line x1="94.5" y1="161.3" x2="1457" y2="161.3" stroke="#f23645" stroke-width="2"/>
<line x1="94.5" y1="218.8" x2="1457" y2="218.8" stroke="#ff9800" stroke-width="2"/>
<line x1="94.5" y1="265.0" x2="1457" y2="265.0" stroke="#4caf50" stroke-width="2"/>
<line x1="94.5" y1="311.3" x2="1457" y2="311.3" stroke="#089981" stroke-width="2"/>
<line x1="94.5" y1="378.3" x2="1457" y2="378.3" stroke="#00bcd4" stroke-width="2"/>
<line x1="94.5" y1="462.2" x2="1457" y2="462.2" stroke="#787b86" stroke-width="2"/>
<line x1="94.5" y1="462.2" x2="1457" y2="68.3" stroke="#787b86" stroke-width="2" stroke-dasharray="9.5 11.26"/>
<text x="31.0" y="63.4" font-size="12" fill="#787b86" textLength="56.0" lengthAdjust="spacingAndGlyphs">0 (1.35903)</text>
<text x="7.0" y="156.4" font-size="12" fill="#f23645" textLength="80.0" lengthAdjust="spacingAndGlyphs">0.236 (1.33831)</text>
<text x="7.0" y="213.9" font-size="12" fill="#ff9800" textLength="80.0" lengthAdjust="spacingAndGlyphs">0.382 (1.32549)</text>
<text x="19.5" y="260.1" font-size="12" fill="#4caf50" textLength="67.5" lengthAdjust="spacingAndGlyphs">0.5 (1.31513)</text>
<text x="7.0" y="306.4" font-size="12" fill="#089981" textLength="80.0" lengthAdjust="spacingAndGlyphs">0.618 (1.30477)</text>
<text x="7.0" y="373.4" font-size="12" fill="#00bcd4" textLength="80.0" lengthAdjust="spacingAndGlyphs">0.786 (1.29002)</text>
<text x="31.0" y="457.3" font-size="12" fill="#787b86" textLength="56.0" lengthAdjust="spacingAndGlyphs">1 (1.27124)</text>
<polygon points="94.5,195.0 1409,4.6 1409,111.4 94.5,301.8" fill="#2962ff" fill-opacity="0.3"/>
<polygon points="94.5,301.8 1409,111.4 1409,218.2 94.5,408.6" fill="#f23645" fill-opacity="0.3"/>
<line x1="94.5" y1="195.0" x2="1409" y2="4.6" stroke="#2962ff" stroke-width="2" stroke-linecap="round"/>
<line x1="94.5" y1="408.6" x2="1409" y2="218.2" stroke="#2962ff" stroke-width="2" stroke-linecap="round"/>
<line x1="94.5" y1="301.8" x2="1409" y2="111.4" stroke="#f23645" stroke-width="1" stroke-dasharray="5 5"/>
<text x="41.5" y="425.6" font-size="12" fill="#2962ff" textLength="104.8" lengthAdjust="spacingAndGlyphs">0.7192738751218707</text>
<path d="M0.0,350.2C1.0,349.6 4.0,347.8 6.0,346.6C8.0,345.4 10.0,344.1 12.0,342.8C14.0,341.5 16.0,340.1 18.0,338.8C20.0,337.5 22.0,336.3 24.0,335.1C26.0,334.0 28.0,332.9 30.0,332.1C32.0,331.3 34.0,330.9 36.0,330.5C38.0,330.2 40.0,330.0 42.0,329.9C44.0,329.8 46.0,330.1 48.0,330.2C50.0,330.3 52.0,330.4 54.0,330.5C56.0,330.7 58.0,330.8 60.0,331.0C62.0,331.2 64.0,331.4 66.0,331.8C68.0,332.2 70.0,332.6 72.0,333.4C74.0,334.2 76.0,335.2 78.0,336.5C80.0,337.8 82.0,339.3 84.0,341.1C86.0,342.8 88.0,344.8 90.0,346.8C92.0,348.9 94.0,351.0 96.0,353.3C98.0,355.6 100.0,358.0 102.0,360.4C104.0,362.9 106.3,366.0 108.0,367.9C109.7,369.7 110.6,369.6 112.3,371.7C114.0,373.9 116.2,378.1 118.1,380.9C120.0,383.6 122.0,386.0 123.9,388.4C125.8,390.8 127.8,392.9 129.7,395.0C131.7,397.2 133.6,399.0 135.5,401.1C137.5,403.3 139.4,406.0 141.4,408.0C143.3,410.0 145.2,411.5 147.2,413.3C149.1,415.1 151.0,417.6 153.0,419.0C154.9,420.4 156.9,421.1 158.8,421.7C160.7,422.3 162.7,422.4 164.6,422.8C166.6,423.1 168.5,423.4 170.4,423.7C172.4,423.9 174.3,424.4 176.2,424.4C178.2,424.3 180.1,423.7 182.1,423.4C184.0,423.0 185.9,423.1 187.9,422.3C189.8,421.6 191.8,420.6 193.7,419.0C195.6,417.5 197.6,415.2 199.5,413.0C201.4,410.8 203.4,408.3 205.3,405.8C207.3,403.4 209.2,400.7 211.1,398.3C213.1,395.9 215.0,393.6 217.0,391.3C218.9,389.0 220.8,386.9 222.8,384.7C224.7,382.5 226.6,380.3 228.6,378.0C230.5,375.7 232.5,373.2 234.4,370.9C236.3,368.5 238.3,366.2 240.2,363.9C242.2,361.5 244.1,359.2 246.0,356.7C248.0,354.2 249.9,351.5 251.8,348.8C253.8,346.1 255.7,343.3 257.7,340.3C259.6,337.4 261.5,334.4 263.5,331.3C265.4,328.2 267.4,324.8 269.3,321.8C271.2,318.9 273.2,316.3 275.1,313.6C277.0,310.8 279.0,308.0 280.9,305.2C282.9,302.4 284.8,299.4 286.7,296.7C288.7,294.0 290.6,291.1 292.6,288.7C294.5,286.3 296.4,284.4 298.4,282.3C300.3,280.1 302.2,277.9 304.2,275.8C306.1,273.8 308.1,271.9 310.0,270.0C311.9,268.0 313.9,265.8 315.8,263.9C317.8,262.0 319.7,260.0 321.6,258.3C323.6,256.7 325.5,255.1 327.4,253.8C329.4,252.4 331.3,251.6 333.3,250.3C335.2,249.0 337.1,247.3 339.1,246.0C341.0,244.7 343.0,243.6 344.9,242.5C346.8,241.5 348.8,240.7 350.7,239.7C352.6,238.6 354.6,237.2 356.5,236.1C358.5,235.1 360.4,234.3 362.3,233.5C364.3,232.7 366.2,232.2 368.2,231.5C370.1,230.8 372.0,230.1 374.0,229.4C375.9,228.7 377.8,228.0 379.8,227.3C381.7,226.7 383.7,226.2 385.6,225.5C387.5,224.9 389.5,224.0 391.4,223.4C393.4,222.7 395.3,222.1 397.2,221.6C399.2,221.1 401.1,220.8 403.0,220.4C405.0,219.9 406.9,219.6 408.9,219.1C410.8,218.5 412.7,217.9 414.7,217.3C416.6,216.7 418.6,216.2 420.5,215.3C422.4,214.4 424.4,213.1 426.3,212.0C428.2,210.8 430.2,209.6 432.1,208.6C434.1,207.6 436.0,206.9 437.9,206.0C439.9,205.2 441.8,204.5 443.8,203.6C445.7,202.7 447.6,201.7 449.6,200.7C451.5,199.6 453.4,198.6 455.4,197.4C457.3,196.2 459.3,194.8 461.2,193.6C463.1,192.3 465.1,191.0 467.0,189.9C469.0,188.7 470.9,187.9 472.8,186.8C474.8,185.8 476.7,184.3 478.6,183.5C480.6,182.7 482.5,182.1 484.5,181.8C486.4,181.5 488.3,181.9 490.3,181.8C492.2,181.7 494.2,181.5 496.1,181.3C498.0,181.0 500.0,180.7 501.9,180.4C503.8,180.2 505.8,179.8 507.7,179.7C509.7,179.7 511.6,180.1 513.5,180.2C515.5,180.4 517.4,180.4 519.4,180.5C521.3,180.7 523.2,180.9 525.2,181.2C527.1,181.4 529.0,181.6 531.0,181.8C532.9,182.0 534.9,181.9 536.8,182.2C538.7,182.6 540.7,183.2 542.6,183.9C544.6,184.5 546.5,185.7 548.4,186.3C550.4,187.0 552.3,187.2 554.2,187.7C556.2,188.1 558.1,188.3 560.1,188.9C562.0,189.4 563.9,190.2 565.9,190.8C567.8,191.5 569.8,192.0 571.7,192.7C573.6,193.4 575.6,194.3 577.5,194.9C579.4,195.4 581.4,195.6 583.3,196.0C585.3,196.4 587.2,196.9 589.1,197.3C591.1,197.8 593.0,198.2 595.0,198.6C596.9,198.9 598.8,199.5 600.8,199.5C602.7,199.6 604.6,199.1 606.6,199.0C608.5,198.8 610.5,198.8 612.4,198.7C614.3,198.5 616.3,198.4 618.2,197.9C620.2,197.4 622.1,196.8 624.0,195.8C626.0,194.7 627.9,192.9 629.8,191.6C631.8,190.3 633.7,189.0 635.7,187.8C637.6,186.7 639.5,185.7 641.5,184.5C643.4,183.4 645.3,182.0 647.3,181.1C649.2,180.2 651.2,179.7 653.1,179.1C655.0,178.5 657.0,177.9 658.9,177.2C660.9,176.5 662.8,175.6 664.7,175.0C666.7,174.3 668.6,173.7 670.5,173.3C672.5,172.8 674.4,172.6 676.4,172.0C678.3,171.4 680.2,170.3 682.2,169.7C684.1,169.1 686.1,168.8 688.0,168.4C689.9,168.1 691.9,167.8 693.8,167.7C695.7,167.6 697.7,167.7 699.6,167.7C701.6,167.7 703.5,167.6 705.4,167.7C707.4,167.7 709.3,168.1 711.3,168.1C713.2,168.1 715.1,167.9 717.1,167.7C719.0,167.5 720.9,167.0 722.9,167.0C724.8,167.1 726.8,167.4 728.7,167.8C730.6,168.1 732.6,168.5 734.5,169.1C736.5,169.7 738.4,170.6 740.3,171.5C742.3,172.4 744.2,173.5 746.1,174.4C748.1,175.4 750.0,176.5 752.0,177.5C753.9,178.4 755.8,179.1 757.8,180.1C759.7,181.1 761.7,182.4 763.6,183.4C765.5,184.3 767.5,184.9 769.4,185.8C771.3,186.6 773.3,187.5 775.2,188.5C777.2,189.4 779.1,190.5 781.0,191.5C783.0,192.5 784.9,193.4 786.9,194.3C788.8,195.1 790.7,196.0 792.7,196.7C794.6,197.3 796.5,197.6 798.5,198.2C800.4,198.7 802.4,199.4 804.3,199.9C806.2,200.3 808.2,200.6 810.1,200.9C812.1,201.2 814.0,201.5 815.9,201.8C817.9,202.0 819.8,202.3 821.7,202.4C823.7,202.4 825.6,202.2 827.6,201.8C829.5,201.5 831.4,200.8 833.4,200.4C835.3,200.0 837.3,200.0 839.2,199.4C841.1,198.9 843.1,197.7 845.0,197.0C846.9,196.4 848.9,196.0 850.8,195.5C852.8,195.0 854.7,194.5 856.6,194.1C858.6,193.7 860.5,193.5 862.5,193.2C864.4,192.9 866.3,192.5 868.3,192.1C870.2,191.7 872.1,191.3 874.1,191.0C876.0,190.8 878.0,190.7 879.9,190.6C881.8,190.5 883.8,190.7 885.7,190.4C887.7,190.1 889.6,189.1 891.5,188.7C893.5,188.4 895.4,188.5 897.3,188.3C899.3,188.1 901.2,187.6 903.2,187.5C905.1,187.3 907.0,187.1 909.0,187.4C910.9,187.7 912.9,188.7 914.8,189.1C916.7,189.5 918.7,189.6 920.6,190.0C922.5,190.4 924.5,191.1 926.4,191.4C928.4,191.8 930.3,191.9 932.2,192.0C934.2,192.2 936.1,192.3 938.1,192.4C940.0,192.5 941.9,192.3 943.9,192.6C945.8,192.8 947.7,193.5 949.7,193.9C951.6,194.4 953.6,194.6 955.5,195.2C957.4,195.8 959.4,196.8 961.3,197.4C963.3,198.0 965.2,197.8 967.1,198.7C969.1,199.6 971.0,201.4 972.9,202.7C974.9,204.1 976.8,205.4 978.8,206.7C980.7,207.9 982.6,208.9 984.6,210.1C986.5,211.3 988.5,212.8 990.4,213.8C992.3,214.9 994.3,215.7 996.2,216.5C998.1,217.2 1000.1,217.6 1002.0,218.5C1004.0,219.3 1005.9,220.7 1007.8,221.5C1009.8,222.2 1011.7,222.7 1013.7,223.1C1015.6,223.6 1017.5,224.1 1019.5,224.2C1021.4,224.3 1023.3,224.0 1025.3,223.7C1027.2,223.4 1029.2,222.8 1031.1,222.3C1033.0,221.8 1035.0,221.4 1036.9,220.7C1038.9,220.1 1040.8,219.2 1042.7,218.5C1044.7,217.9 1046.6,217.3 1048.5,216.9C1050.5,216.6 1052.4,216.3 1054.4,216.4C1056.3,216.5 1058.2,217.3 1060.2,217.7C1062.1,218.1 1064.1,218.5 1066.0,218.8C1067.9,219.1 1069.9,219.2 1071.8,219.4C1073.7,219.5 1075.7,219.6 1077.6,219.7C1079.6,219.9 1081.5,220.6 1083.4,220.2C1085.4,219.8 1087.3,218.4 1089.3,217.4C1091.2,216.5 1093.1,215.4 1095.1,214.5C1097.0,213.7 1098.9,213.0 1100.9,212.1C1102.8,211.2 1104.8,210.1 1106.7,209.0C1108.6,208.0 1110.6,206.8 1112.5,205.9C1114.5,205.1 1116.4,204.5 1118.3,204.1C1120.3,203.6 1122.2,203.5 1124.1,203.1C1126.1,202.7 1128.0,202.0 1130.0,201.7C1131.9,201.4 1133.8,201.5 1135.8,201.5C1137.7,201.5 1139.7,201.5 1141.6,201.5C1143.5,201.5 1145.5,201.9 1147.4,201.7C1149.3,201.5 1151.3,200.8 1153.2,200.4C1155.2,200.0 1157.1,199.5 1159.0,199.2C1161.0,198.9 1162.9,199.0 1164.8,198.7C1166.8,198.4 1168.7,198.0 1170.7,197.4C1172.6,196.8 1174.5,195.9 1176.5,195.1C1178.4,194.4 1180.4,193.6 1182.3,192.8C1184.2,192.0 1186.2,191.1 1188.1,190.3C1190.0,189.6 1192.0,189.0 1193.9,188.2C1195.9,187.5 1197.8,186.7 1199.7,186.0C1201.7,185.2 1203.6,184.5 1205.6,183.8C1207.5,183.1 1209.4,182.6 1211.4,181.7C1213.3,180.9 1215.2,179.7 1217.2,178.8C1219.1,177.9 1221.1,177.3 1223.0,176.6C1224.9,175.8 1226.9,175.3 1228.8,174.3C1230.8,173.3 1232.7,171.8 1234.6,170.6C1236.6,169.4 1238.5,168.1 1240.4,167.0C1242.4,165.9 1244.3,164.8 1246.3,163.7C1248.2,162.7 1250.1,161.7 1252.1,160.7C1254.0,159.7 1256.0,158.8 1257.9,157.8C1259.8,156.9 1261.8,155.7 1263.7,155.0C1265.6,154.3 1267.6,154.0 1269.5,153.7C1271.5,153.4 1273.4,153.3 1275.3,152.9C1277.3,152.5 1279.2,152.0 1281.2,151.4C1283.1,150.8 1285.0,150.2 1287.0,149.4C1288.9,148.6 1290.8,147.6 1292.8,146.7C1294.7,145.8 1296.7,144.9 1298.6,144.0C1300.5,143.1 1302.5,142.4 1304.4,141.3C1306.4,140.2 1308.3,138.7 1310.2,137.4C1312.2,136.1 1314.1,134.8 1316.0,133.6C1318.0,132.5 1319.9,131.5 1321.9,130.3C1323.8,129.0 1325.7,127.3 1327.7,126.1C1329.6,125.0 1331.6,124.2 1333.5,123.1C1335.4,122.1 1337.4,121.0 1339.3,119.9C1341.2,118.8 1343.2,117.5 1345.1,116.5C1347.1,115.5 1349.0,114.9 1350.9,113.9C1352.9,112.9 1354.8,111.6 1356.8,110.5C1358.7,109.4 1360.6,108.1 1362.6,107.2C1364.5,106.2 1366.4,105.7 1368.4,104.9C1370.3,104.1 1372.3,103.1 1374.2,102.3C1376.1,101.6 1378.1,101.1 1380.0,100.5C1382.0,99.9 1383.9,99.3 1385.8,98.7C1387.8,98.0 1389.7,97.1 1391.6,96.5C1393.6,96.0 1395.5,95.6 1397.5,95.2C1399.4,94.7 1401.3,94.3 1403.3,94.0C1405.2,93.7 1408.1,93.5 1409.1,93.4" fill="none" stroke="#f23645" stroke-width="2" stroke-linejoin="round" stroke-linecap="round"/>
<line x1="0" y1="158.1" x2="1476" y2="158.1" stroke="#131722" stroke-width="2.6" stroke-dasharray="2.6 5.9" stroke-dashoffset="0.7"/>
<g><path d="M1.8,240.0V274.6" stroke="#089981" stroke-width="1.15"/><rect x="-0.6" y="255.1" width="4.7" height="17.0" fill="#089981"/><path d="M7.6,245.4V285.1" stroke="#f23645" stroke-width="1.15"/><rect x="5.3" y="255.1" width="4.7" height="29.7" fill="#f23645"/><path d="M13.4,278.8V296.5" stroke="#f23645" stroke-width="1.15"/><rect x="11.1" y="283.1" width="4.7" height="13.4" fill="#f23645"/><path d="M19.2,285.1V297.7" stroke="#089981" stroke-width="1.15"/><rect x="16.9" y="293.8" width="4.7" height="3.0" fill="#089981"/><path d="M25.1,284.0V296.5" stroke="#089981" stroke-width="1.15"/><rect x="22.7" y="286.0" width="4.7" height="7.8" fill="#089981"/><path d="M30.9,282.3V330.3" stroke="#f23645" stroke-width="1.15"/><rect x="28.5" y="287.1" width="4.7" height="42.8" fill="#f23645"/><path d="M36.7,319.1V350.0" stroke="#089981" stroke-width="1.15"/><rect x="34.3" y="324.1" width="4.7" height="6.5" fill="#089981"/><path d="M42.5,310.5V367.2" stroke="#f23645" stroke-width="1.15"/><rect x="40.1" y="324.1" width="4.7" height="43.1" fill="#f23645"/><path d="M48.3,365.3V396.7" stroke="#f23645" stroke-width="1.15"/><rect x="46.0" y="367.2" width="4.7" height="24.0" fill="#f23645"/><path d="M54.1,376.2V398.3" stroke="#089981" stroke-width="1.15"/><rect x="51.8" y="384.0" width="4.7" height="6.7" fill="#089981"/><path d="M59.9,369.0V408.8" stroke="#089981" stroke-width="1.15"/><rect x="57.6" y="375.0" width="4.7" height="10.6" fill="#089981"/><path d="M65.8,370.4V400.7" stroke="#f23645" stroke-width="1.15"/><rect x="63.4" y="374.4" width="4.7" height="10.0" fill="#f23645"/><path d="M71.6,363.2V385.3" stroke="#089981" stroke-width="1.15"/><rect x="69.2" y="380.4" width="4.7" height="4.9" fill="#089981"/><path d="M77.4,372.2V417.9" stroke="#f23645" stroke-width="1.15"/><rect x="75.0" y="380.4" width="4.7" height="32.0" fill="#f23645"/><path d="M83.2,399.0V457.7" stroke="#f23645" stroke-width="1.15"/><rect x="80.9" y="412.0" width="4.7" height="45.0" fill="#f23645"/><path d="M89.0,433.3V462.8" stroke="#f23645" stroke-width="1.15"/><rect x="86.7" y="457.0" width="4.7" height="4.0" fill="#f23645"/><path d="M94.8,451.0V463.4" stroke="#089981" stroke-width="1.15"/><rect x="92.5" y="453.0" width="4.7" height="8.0" fill="#089981"/><path d="M100.7,427.0V453.4" stroke="#089981" stroke-width="1.15"/><rect x="98.3" y="433.3" width="4.7" height="20.1" fill="#089981"/><path d="M106.5,424.5V445.8" stroke="#f23645" stroke-width="1.15"/><rect x="104.1" y="433.3" width="4.7" height="12.5" fill="#f23645"/><path d="M112.3,430.2V456.5" stroke="#089981" stroke-width="1.15"/><rect x="109.9" y="432.0" width="4.7" height="13.8" fill="#089981"/><path d="M118.1,424.5V447.7" stroke="#f23645" stroke-width="1.15"/><rect x="115.7" y="433.3" width="4.7" height="4.4" fill="#f23645"/><path d="M123.9,416.4V443.3" stroke="#089981" stroke-width="1.15"/><rect x="121.6" y="435.2" width="4.7" height="2.5" fill="#089981"/><path d="M129.7,426.4V443.3" stroke="#089981" stroke-width="1.15"/><rect x="127.4" y="429.3" width="4.7" height="6.5" fill="#089981"/><path d="M135.5,403.2V433.9" stroke="#089981" stroke-width="1.15"/><rect x="133.2" y="415.5" width="4.7" height="14.3" fill="#089981"/><path d="M141.4,394.4V426.4" stroke="#f23645" stroke-width="1.15"/><rect x="139.0" y="415.5" width="4.7" height="7.8" fill="#f23645"/><path d="M147.2,407.0V435.8" stroke="#f23645" stroke-width="1.15"/><rect x="144.8" y="423.0" width="4.7" height="12.8" fill="#f23645"/><path d="M153.0,416.4V444.6" stroke="#f23645" stroke-width="1.15"/><rect x="150.6" y="435.2" width="4.7" height="2.5" fill="#f23645"/><path d="M158.8,406.0V447.7" stroke="#089981" stroke-width="1.15"/><rect x="156.5" y="422.0" width="4.7" height="15.7" fill="#089981"/><path d="M164.6,401.3V425.1" stroke="#089981" stroke-width="1.15"/><rect x="162.3" y="412.4" width="4.7" height="9.6" fill="#089981"/><path d="M170.4,398.8V412.9" stroke="#089981" stroke-width="1.15"/><rect x="168.1" y="402.3" width="4.7" height="9.7" fill="#089981"/><path d="M176.2,386.0V404.5" stroke="#089981" stroke-width="1.15"/><rect x="173.9" y="388.8" width="4.7" height="13.8" fill="#089981"/><path d="M182.1,361.4V395.8" stroke="#089981" stroke-width="1.15"/><rect x="179.7" y="364.2" width="4.7" height="24.9" fill="#089981"/><path d="M187.9,342.4V380.4" stroke="#089981" stroke-width="1.15"/><rect x="185.5" y="360.2" width="4.7" height="4.5" fill="#089981"/><path d="M193.7,335.2V366.9" stroke="#089981" stroke-width="1.15"/><rect x="191.3" y="346.0" width="4.7" height="15.4" fill="#089981"/><path d="M199.5,334.3V353.3" stroke="#089981" stroke-width="1.15"/><rect x="197.2" y="336.6" width="4.7" height="11.3" fill="#089981"/><path d="M205.3,312.5V337.9" stroke="#089981" stroke-width="1.15"/><rect x="203.0" y="317.1" width="4.7" height="20.8" fill="#089981"/><path d="M211.1,299.0V339.3" stroke="#089981" stroke-width="1.15"/><rect x="208.8" y="303.0" width="4.7" height="14.6" fill="#089981"/><path d="M217.0,268.0V308.0" stroke="#089981" stroke-width="1.15"/><rect x="214.6" y="293.2" width="4.7" height="10.3" fill="#089981"/><path d="M222.8,272.7V314.4" stroke="#f23645" stroke-width="1.15"/><rect x="220.4" y="293.2" width="4.7" height="19.9" fill="#f23645"/><path d="M228.6,295.3V319.2" stroke="#089981" stroke-width="1.15"/><rect x="226.2" y="299.0" width="4.7" height="13.9" fill="#089981"/><path d="M234.4,280.9V303.5" stroke="#089981" stroke-width="1.15"/><rect x="232.1" y="294.4" width="4.7" height="5.5" fill="#089981"/><path d="M240.2,285.9V304.5" stroke="#f23645" stroke-width="1.15"/><rect x="237.9" y="294.5" width="4.7" height="1.3" fill="#f23645"/><path d="M246.0,275.5V296.0" stroke="#089981" stroke-width="1.15"/><rect x="243.7" y="285.0" width="4.7" height="11.0" fill="#089981"/><path d="M251.8,255.6V289.7" stroke="#089981" stroke-width="1.15"/><rect x="249.5" y="258.3" width="4.7" height="27.2" fill="#089981"/><path d="M257.7,242.6V260.1" stroke="#089981" stroke-width="1.15"/><rect x="255.3" y="253.8" width="4.7" height="5.4" fill="#089981"/><path d="M263.5,247.5V277.3" stroke="#f23645" stroke-width="1.15"/><rect x="261.1" y="253.8" width="4.7" height="1.5" fill="#f23645"/><path d="M269.3,243.8V258.3" stroke="#089981" stroke-width="1.15"/><rect x="266.9" y="248.4" width="4.7" height="7.6" fill="#089981"/><path d="M275.1,244.8V256.5" stroke="#f23645" stroke-width="1.15"/><rect x="272.8" y="248.0" width="4.7" height="8.5" fill="#f23645"/><path d="M280.9,243.8V259.2" stroke="#089981" stroke-width="1.15"/><rect x="278.6" y="244.4" width="4.7" height="12.1" fill="#089981"/><path d="M286.7,231.2V249.6" stroke="#089981" stroke-width="1.15"/><rect x="284.4" y="233.0" width="4.7" height="11.8" fill="#089981"/><path d="M292.6,220.3V234.2" stroke="#089981" stroke-width="1.15"/><rect x="290.2" y="229.0" width="4.7" height="4.9" fill="#089981"/><path d="M298.4,223.0V240.2" stroke="#f23645" stroke-width="1.15"/><rect x="296.0" y="229.0" width="4.7" height="6.2" fill="#f23645"/><path d="M304.2,230.3V240.2" stroke="#089981" stroke-width="1.15"/><rect x="301.8" y="231.2" width="4.7" height="3.6" fill="#089981"/><path d="M310.0,226.6V233.5" stroke="#089981" stroke-width="1.15"/><rect x="307.7" y="229.0" width="4.7" height="3.4" fill="#089981"/><path d="M315.8,214.9V229.7" stroke="#089981" stroke-width="1.15"/><rect x="313.5" y="215.4" width="4.7" height="14.3" fill="#089981"/><path d="M321.6,203.1V218.0" stroke="#089981" stroke-width="1.15"/><rect x="319.3" y="205.8" width="4.7" height="10.0" fill="#089981"/><path d="M327.4,201.8V216.7" stroke="#f23645" stroke-width="1.15"/><rect x="325.1" y="205.8" width="4.7" height="6.0" fill="#f23645"/><path d="M333.3,210.3V230.6" stroke="#f23645" stroke-width="1.15"/><rect x="330.9" y="211.3" width="4.7" height="12.6" fill="#f23645"/><path d="M339.1,220.8V237.5" stroke="#f23645" stroke-width="1.15"/><rect x="336.7" y="223.6" width="4.7" height="3.4" fill="#f23645"/><path d="M344.9,220.3V229.0" stroke="#f23645" stroke-width="1.15"/><rect x="342.5" y="226.6" width="4.7" height="2.4" fill="#f23645"/><path d="M350.7,228.1V242.0" stroke="#f23645" stroke-width="1.15"/><rect x="348.4" y="228.5" width="4.7" height="9.4" fill="#f23645"/><path d="M356.5,222.5V241.4" stroke="#089981" stroke-width="1.15"/><rect x="354.2" y="224.5" width="4.7" height="13.3" fill="#089981"/><path d="M362.3,222.0V233.6" stroke="#f23645" stroke-width="1.15"/><rect x="360.0" y="224.5" width="4.7" height="7.7" fill="#f23645"/><path d="M368.2,210.6V234.7" stroke="#089981" stroke-width="1.15"/><rect x="365.8" y="218.2" width="4.7" height="13.6" fill="#089981"/><path d="M374.0,210.2V222.3" stroke="#089981" stroke-width="1.15"/><rect x="371.6" y="212.9" width="4.7" height="5.8" fill="#089981"/><path d="M379.8,211.5V215.6" stroke="#089981" stroke-width="1.15"/><rect x="377.4" y="212.9" width="4.7" height="1.0" fill="#089981"/><path d="M385.6,205.7V214.2" stroke="#089981" stroke-width="1.15"/><rect x="383.2" y="212.4" width="4.7" height="1.0" fill="#089981"/><path d="M391.4,207.9V213.8" stroke="#f23645" stroke-width="1.15"/><rect x="389.1" y="212.0" width="4.7" height="1.8" fill="#f23645"/><path d="M397.2,207.5V216.9" stroke="#089981" stroke-width="1.15"/><rect x="394.9" y="209.3" width="4.7" height="4.9" fill="#089981"/><path d="M403.0,204.6V211.1" stroke="#089981" stroke-width="1.15"/><rect x="400.7" y="207.9" width="4.7" height="1.2" fill="#089981"/><path d="M408.9,201.9V209.7" stroke="#089981" stroke-width="1.15"/><rect x="406.5" y="202.8" width="4.7" height="6.3" fill="#089981"/><path d="M414.7,198.8V204.8" stroke="#089981" stroke-width="1.15"/><rect x="412.3" y="199.7" width="4.7" height="4.2" fill="#089981"/><path d="M420.5,189.4V208.2" stroke="#089981" stroke-width="1.15"/><rect x="418.1" y="191.6" width="4.7" height="10.3" fill="#089981"/><path d="M426.3,159.0V192.5" stroke="#089981" stroke-width="1.15"/><rect x="424.0" y="162.0" width="4.7" height="30.5" fill="#089981"/><path d="M432.1,146.3V168.6" stroke="#089981" stroke-width="1.15"/><rect x="429.8" y="147.7" width="4.7" height="15.3" fill="#089981"/><path d="M437.9,143.0V162.6" stroke="#f23645" stroke-width="1.15"/><rect x="435.6" y="147.7" width="4.7" height="7.6" fill="#f23645"/><path d="M443.8,149.0V163.5" stroke="#f23645" stroke-width="1.15"/><rect x="441.4" y="155.0" width="4.7" height="7.6" fill="#f23645"/><path d="M449.6,159.9V169.5" stroke="#f23645" stroke-width="1.15"/><rect x="447.2" y="162.2" width="4.7" height="3.5" fill="#f23645"/><path d="M455.4,160.4V168.6" stroke="#089981" stroke-width="1.15"/><rect x="453.0" y="162.2" width="4.7" height="3.6" fill="#089981"/><path d="M461.2,149.0V170.7" stroke="#089981" stroke-width="1.15"/><rect x="458.8" y="151.7" width="4.7" height="11.3" fill="#089981"/><path d="M467.0,142.2V167.0" stroke="#f23645" stroke-width="1.15"/><rect x="464.7" y="151.8" width="4.7" height="11.9" fill="#f23645"/><path d="M472.8,157.4V170.0" stroke="#f23645" stroke-width="1.15"/><rect x="470.5" y="162.3" width="4.7" height="1.3" fill="#f23645"/><path d="M478.6,158.0V173.5" stroke="#f23645" stroke-width="1.15"/><rect x="476.3" y="163.0" width="4.7" height="3.3" fill="#f23645"/><path d="M484.5,163.9V184.4" stroke="#f23645" stroke-width="1.15"/><rect x="482.1" y="165.2" width="4.7" height="19.2" fill="#f23645"/><path d="M490.3,182.9V228.2" stroke="#f23645" stroke-width="1.15"/><rect x="487.9" y="183.8" width="4.7" height="28.5" fill="#f23645"/><path d="M496.1,190.5V212.3" stroke="#089981" stroke-width="1.15"/><rect x="493.7" y="202.0" width="4.7" height="10.3" fill="#089981"/><path d="M501.9,186.2V203.8" stroke="#089981" stroke-width="1.15"/><rect x="499.6" y="196.2" width="4.7" height="6.7" fill="#089981"/><path d="M507.7,181.1V206.1" stroke="#f23645" stroke-width="1.15"/><rect x="505.4" y="195.3" width="4.7" height="4.5" fill="#f23645"/><path d="M513.5,189.8V219.5" stroke="#f23645" stroke-width="1.15"/><rect x="511.2" y="198.9" width="4.7" height="20.6" fill="#f23645"/><path d="M519.4,208.7V220.6" stroke="#089981" stroke-width="1.15"/><rect x="517.0" y="213.7" width="4.7" height="6.0" fill="#089981"/><path d="M525.2,209.7V220.6" stroke="#f23645" stroke-width="1.15"/><rect x="522.8" y="213.7" width="4.7" height="1.3" fill="#f23645"/><path d="M531.0,204.7V217.0" stroke="#089981" stroke-width="1.15"/><rect x="528.6" y="212.3" width="4.7" height="2.7" fill="#089981"/><path d="M536.8,200.1V213.7" stroke="#089981" stroke-width="1.15"/><rect x="534.4" y="201.0" width="4.7" height="11.5" fill="#089981"/><path d="M542.6,188.7V202.5" stroke="#089981" stroke-width="1.15"/><rect x="540.3" y="194.2" width="4.7" height="7.8" fill="#089981"/><path d="M548.4,184.4V202.5" stroke="#f23645" stroke-width="1.15"/><rect x="546.1" y="194.3" width="4.7" height="2.6" fill="#f23645"/><path d="M554.2,178.0V196.9" stroke="#089981" stroke-width="1.15"/><rect x="551.9" y="182.0" width="4.7" height="14.9" fill="#089981"/><path d="M560.1,176.6V187.5" stroke="#f23645" stroke-width="1.15"/><rect x="557.7" y="181.1" width="4.7" height="5.5" fill="#f23645"/><path d="M565.9,185.7V205.6" stroke="#f23645" stroke-width="1.15"/><rect x="563.5" y="186.0" width="4.7" height="19.6" fill="#f23645"/><path d="M571.7,191.6V210.5" stroke="#089981" stroke-width="1.15"/><rect x="569.3" y="198.9" width="4.7" height="7.0" fill="#089981"/><path d="M577.5,190.5V204.7" stroke="#089981" stroke-width="1.15"/><rect x="575.2" y="195.3" width="4.7" height="4.5" fill="#089981"/><path d="M583.3,184.5V199.0" stroke="#089981" stroke-width="1.15"/><rect x="581.0" y="186.0" width="4.7" height="10.3" fill="#089981"/><path d="M589.1,183.5V191.3" stroke="#f23645" stroke-width="1.15"/><rect x="586.8" y="186.0" width="4.7" height="4.7" fill="#f23645"/><path d="M595.0,187.9V196.5" stroke="#f23645" stroke-width="1.15"/><rect x="592.6" y="189.1" width="4.7" height="1.8" fill="#f23645"/><path d="M600.8,191.1V204.2" stroke="#f23645" stroke-width="1.15"/><rect x="598.4" y="191.5" width="4.7" height="12.1" fill="#f23645"/><path d="M606.6,196.5V207.8" stroke="#089981" stroke-width="1.15"/><rect x="604.2" y="201.1" width="4.7" height="3.1" fill="#089981"/><path d="M612.4,186.0V203.2" stroke="#089981" stroke-width="1.15"/><rect x="610.0" y="196.0" width="4.7" height="6.3" fill="#089981"/><path d="M618.2,173.4V197.5" stroke="#089981" stroke-width="1.15"/><rect x="615.9" y="181.2" width="4.7" height="15.7" fill="#089981"/><path d="M624.0,144.0V181.9" stroke="#089981" stroke-width="1.15"/><rect x="621.7" y="156.5" width="4.7" height="25.4" fill="#089981"/><path d="M629.8,133.5V158.9" stroke="#089981" stroke-width="1.15"/><rect x="627.5" y="135.9" width="4.7" height="22.1" fill="#089981"/><path d="M635.7,133.0V140.8" stroke="#f23645" stroke-width="1.15"/><rect x="633.3" y="135.9" width="4.7" height="3.1" fill="#f23645"/><path d="M641.5,135.0V148.9" stroke="#f23645" stroke-width="1.15"/><rect x="639.1" y="137.2" width="4.7" height="11.7" fill="#f23645"/><path d="M647.3,143.1V156.7" stroke="#089981" stroke-width="1.15"/><rect x="644.9" y="143.5" width="4.7" height="5.4" fill="#089981"/><path d="M653.1,141.1V161.2" stroke="#f23645" stroke-width="1.15"/><rect x="650.8" y="143.1" width="4.7" height="18.1" fill="#f23645"/><path d="M658.9,144.4V161.6" stroke="#089981" stroke-width="1.15"/><rect x="656.6" y="156.2" width="4.7" height="5.0" fill="#089981"/><path d="M664.7,144.0V159.2" stroke="#089981" stroke-width="1.15"/><rect x="662.4" y="152.0" width="4.7" height="5.4" fill="#089981"/><path d="M670.5,147.1V152.9" stroke="#089981" stroke-width="1.15"/><rect x="668.2" y="148.0" width="4.7" height="4.9" fill="#089981"/><path d="M676.4,147.1V161.2" stroke="#f23645" stroke-width="1.15"/><rect x="674.0" y="147.7" width="4.7" height="13.5" fill="#f23645"/><path d="M682.2,150.7V162.1" stroke="#089981" stroke-width="1.15"/><rect x="679.8" y="160.2" width="4.7" height="1.0" fill="#089981"/><path d="M688.0,156.7V173.4" stroke="#f23645" stroke-width="1.15"/><rect x="685.6" y="160.7" width="4.7" height="12.7" fill="#f23645"/><path d="M693.8,170.7V194.2" stroke="#f23645" stroke-width="1.15"/><rect x="691.5" y="172.5" width="4.7" height="8.1" fill="#f23645"/><path d="M699.6,172.7V186.5" stroke="#f23645" stroke-width="1.15"/><rect x="697.3" y="180.3" width="4.7" height="6.2" fill="#f23645"/><path d="M705.4,183.9V190.0" stroke="#f23645" stroke-width="1.15"/><rect x="703.1" y="185.9" width="4.7" height="3.6" fill="#f23645"/><path d="M711.3,186.6V201.5" stroke="#f23645" stroke-width="1.15"/><rect x="708.9" y="188.8" width="4.7" height="10.3" fill="#f23645"/><path d="M717.1,195.1V208.7" stroke="#089981" stroke-width="1.15"/><rect x="714.7" y="196.0" width="4.7" height="3.1" fill="#089981"/><path d="M722.9,178.5V197.0" stroke="#089981" stroke-width="1.15"/><rect x="720.5" y="187.9" width="4.7" height="8.5" fill="#089981"/><path d="M728.7,180.3V213.8" stroke="#f23645" stroke-width="1.15"/><rect x="726.4" y="187.9" width="4.7" height="22.6" fill="#f23645"/><path d="M734.5,204.7V215.6" stroke="#089981" stroke-width="1.15"/><rect x="732.2" y="207.8" width="4.7" height="3.3" fill="#089981"/><path d="M740.3,204.7V210.0" stroke="#089981" stroke-width="1.15"/><rect x="738.0" y="205.1" width="4.7" height="2.7" fill="#089981"/><path d="M746.1,193.0V210.2" stroke="#089981" stroke-width="1.15"/><rect x="743.8" y="194.2" width="4.7" height="11.3" fill="#089981"/><path d="M752.0,188.8V199.7" stroke="#f23645" stroke-width="1.15"/><rect x="749.6" y="194.2" width="4.7" height="5.5" fill="#f23645"/><path d="M757.8,191.9V206.0" stroke="#f23645" stroke-width="1.15"/><rect x="755.4" y="199.1" width="4.7" height="2.7" fill="#f23645"/><path d="M763.6,184.6V214.7" stroke="#f23645" stroke-width="1.15"/><rect x="761.2" y="201.5" width="4.7" height="7.2" fill="#f23645"/><path d="M769.4,200.2V212.7" stroke="#f23645" stroke-width="1.15"/><rect x="767.1" y="207.8" width="4.7" height="1.3" fill="#f23645"/><path d="M775.2,207.5V214.5" stroke="#f23645" stroke-width="1.15"/><rect x="772.9" y="208.4" width="4.7" height="2.1" fill="#f23645"/><path d="M781.0,209.6V216.5" stroke="#089981" stroke-width="1.15"/><rect x="778.7" y="212.3" width="4.7" height="4.2" fill="#089981"/><path d="M786.9,198.2V215.6" stroke="#089981" stroke-width="1.15"/><rect x="784.5" y="203.6" width="4.7" height="9.6" fill="#089981"/><path d="M792.7,197.9V208.7" stroke="#f23645" stroke-width="1.15"/><rect x="790.3" y="203.6" width="4.7" height="4.8" fill="#f23645"/><path d="M798.5,187.0V208.4" stroke="#089981" stroke-width="1.15"/><rect x="796.1" y="190.6" width="4.7" height="17.8" fill="#089981"/><path d="M804.3,182.5V207.3" stroke="#f23645" stroke-width="1.15"/><rect x="802.0" y="191.9" width="4.7" height="15.4" fill="#f23645"/><path d="M810.1,199.7V211.0" stroke="#089981" stroke-width="1.15"/><rect x="807.8" y="201.8" width="4.7" height="5.5" fill="#089981"/><path d="M815.9,198.4V203.5" stroke="#f23645" stroke-width="1.15"/><rect x="813.6" y="201.3" width="4.7" height="2.0" fill="#f23645"/><path d="M821.7,200.0V215.7" stroke="#089981" stroke-width="1.15"/><rect x="819.4" y="201.3" width="4.7" height="2.2" fill="#089981"/><path d="M827.6,186.1V204.2" stroke="#089981" stroke-width="1.15"/><rect x="825.2" y="188.8" width="4.7" height="13.6" fill="#089981"/><path d="M833.4,165.3V195.2" stroke="#089981" stroke-width="1.15"/><rect x="831.0" y="166.8" width="4.7" height="23.9" fill="#089981"/><path d="M839.2,153.2V172.5" stroke="#f23645" stroke-width="1.15"/><rect x="836.8" y="166.8" width="4.7" height="2.1" fill="#f23645"/><path d="M845.0,159.9V175.3" stroke="#089981" stroke-width="1.15"/><rect x="842.7" y="162.6" width="4.7" height="6.3" fill="#089981"/><path d="M850.8,161.1V178.9" stroke="#f23645" stroke-width="1.15"/><rect x="848.5" y="162.6" width="4.7" height="14.1" fill="#f23645"/><path d="M856.6,171.1V182.5" stroke="#f23645" stroke-width="1.15"/><rect x="854.3" y="175.6" width="4.7" height="2.4" fill="#f23645"/><path d="M862.5,168.0V179.8" stroke="#089981" stroke-width="1.15"/><rect x="860.1" y="175.6" width="4.7" height="2.9" fill="#089981"/><path d="M868.3,172.9V187.0" stroke="#f23645" stroke-width="1.15"/><rect x="865.9" y="175.6" width="4.7" height="2.4" fill="#f23645"/><path d="M874.1,164.4V180.2" stroke="#f23645" stroke-width="1.15"/><rect x="871.7" y="177.4" width="4.7" height="2.8" fill="#f23645"/><path d="M879.9,174.7V202.4" stroke="#f23645" stroke-width="1.15"/><rect x="877.6" y="179.2" width="4.7" height="21.8" fill="#f23645"/><path d="M885.7,198.8V207.5" stroke="#f23645" stroke-width="1.15"/><rect x="883.4" y="200.3" width="4.7" height="3.4" fill="#f23645"/><path d="M891.5,173.8V203.7" stroke="#089981" stroke-width="1.15"/><rect x="889.2" y="178.0" width="4.7" height="25.7" fill="#089981"/><path d="M897.3,177.4V212.9" stroke="#f23645" stroke-width="1.15"/><rect x="895.0" y="178.0" width="4.7" height="25.7" fill="#f23645"/><path d="M903.2,184.0V224.2" stroke="#089981" stroke-width="1.15"/><rect x="900.8" y="186.7" width="4.7" height="17.0" fill="#089981"/><path d="M909.0,178.5V209.7" stroke="#f23645" stroke-width="1.15"/><rect x="906.6" y="186.7" width="4.7" height="19.9" fill="#f23645"/><path d="M914.8,205.1V226.5" stroke="#f23645" stroke-width="1.15"/><rect x="912.4" y="206.0" width="4.7" height="19.0" fill="#f23645"/><path d="M920.6,218.7V227.8" stroke="#f23645" stroke-width="1.15"/><rect x="918.3" y="223.8" width="4.7" height="2.2" fill="#f23645"/><path d="M926.4,224.2V237.5" stroke="#f23645" stroke-width="1.15"/><rect x="924.1" y="226.0" width="4.7" height="4.0" fill="#f23645"/><path d="M932.2,212.2V232.8" stroke="#089981" stroke-width="1.15"/><rect x="929.9" y="215.2" width="4.7" height="14.8" fill="#089981"/><path d="M938.1,205.0V218.5" stroke="#089981" stroke-width="1.15"/><rect x="935.7" y="209.2" width="4.7" height="7.2" fill="#089981"/><path d="M943.9,190.3V210.2" stroke="#089981" stroke-width="1.15"/><rect x="941.5" y="191.2" width="4.7" height="19.0" fill="#089981"/><path d="M949.7,189.0V196.6" stroke="#f23645" stroke-width="1.15"/><rect x="947.3" y="191.8" width="4.7" height="2.1" fill="#f23645"/><path d="M955.5,193.0V199.9" stroke="#f23645" stroke-width="1.15"/><rect x="953.1" y="193.9" width="4.7" height="1.3" fill="#f23645"/><path d="M961.3,193.9V215.7" stroke="#f23645" stroke-width="1.15"/><rect x="959.0" y="194.5" width="4.7" height="12.1" fill="#f23645"/><path d="M967.1,200.6V209.3" stroke="#089981" stroke-width="1.15"/><rect x="964.8" y="202.6" width="4.7" height="3.1" fill="#089981"/><path d="M972.9,198.5V258.6" stroke="#f23645" stroke-width="1.15"/><rect x="970.6" y="202.1" width="4.7" height="56.5" fill="#f23645"/><path d="M978.8,241.4V270.9" stroke="#089981" stroke-width="1.15"/><rect x="976.4" y="253.7" width="4.7" height="5.0" fill="#089981"/><path d="M984.6,236.8V256.0" stroke="#089981" stroke-width="1.15"/><rect x="982.2" y="247.3" width="4.7" height="7.8" fill="#089981"/><path d="M990.4,243.7V260.0" stroke="#f23645" stroke-width="1.15"/><rect x="988.0" y="246.8" width="4.7" height="7.2" fill="#f23645"/><path d="M996.2,251.0V267.6" stroke="#f23645" stroke-width="1.15"/><rect x="993.9" y="252.8" width="4.7" height="1.2" fill="#f23645"/><path d="M1002.0,243.4V256.0" stroke="#089981" stroke-width="1.15"/><rect x="999.7" y="244.1" width="4.7" height="10.9" fill="#089981"/><path d="M1007.8,237.4V248.2" stroke="#089981" stroke-width="1.15"/><rect x="1005.5" y="237.9" width="4.7" height="7.3" fill="#089981"/><path d="M1013.7,233.8V243.4" stroke="#089981" stroke-width="1.15"/><rect x="1011.3" y="236.8" width="4.7" height="1.1" fill="#089981"/><path d="M1019.5,207.5V237.4" stroke="#089981" stroke-width="1.15"/><rect x="1017.1" y="208.4" width="4.7" height="29.0" fill="#089981"/><path d="M1025.3,195.2V211.1" stroke="#089981" stroke-width="1.15"/><rect x="1022.9" y="196.3" width="4.7" height="13.0" fill="#089981"/><path d="M1031.1,190.3V197.0" stroke="#f23645" stroke-width="1.15"/><rect x="1028.7" y="195.7" width="4.7" height="1.3" fill="#f23645"/><path d="M1036.9,189.4V199.0" stroke="#089981" stroke-width="1.15"/><rect x="1034.6" y="194.5" width="4.7" height="4.0" fill="#089981"/><path d="M1042.7,185.0V202.8" stroke="#089981" stroke-width="1.15"/><rect x="1040.4" y="186.0" width="4.7" height="9.4" fill="#089981"/><path d="M1048.5,171.5V186.7" stroke="#089981" stroke-width="1.15"/><rect x="1046.2" y="183.0" width="4.7" height="3.7" fill="#089981"/><path d="M1054.4,181.0V203.6" stroke="#f23645" stroke-width="1.15"/><rect x="1052.0" y="182.8" width="4.7" height="16.0" fill="#f23645"/><path d="M1060.2,194.2V218.7" stroke="#f23645" stroke-width="1.15"/><rect x="1057.8" y="198.2" width="4.7" height="19.6" fill="#f23645"/><path d="M1066.0,212.3V217.8" stroke="#089981" stroke-width="1.15"/><rect x="1063.6" y="215.1" width="4.7" height="1.8" fill="#089981"/><path d="M1071.8,204.7V216.9" stroke="#089981" stroke-width="1.15"/><rect x="1069.5" y="206.9" width="4.7" height="8.7" fill="#089981"/><path d="M1077.6,196.4V214.5" stroke="#f23645" stroke-width="1.15"/><rect x="1075.3" y="206.9" width="4.7" height="6.9" fill="#f23645"/><path d="M1083.4,198.8V215.4" stroke="#089981" stroke-width="1.15"/><rect x="1081.1" y="212.3" width="4.7" height="1.9" fill="#089981"/><path d="M1089.3,189.3V214.7" stroke="#089981" stroke-width="1.15"/><rect x="1086.9" y="202.9" width="4.7" height="9.4" fill="#089981"/><path d="M1095.1,195.1V206.0" stroke="#089981" stroke-width="1.15"/><rect x="1092.7" y="196.0" width="4.7" height="7.8" fill="#089981"/><path d="M1100.9,193.9V199.1" stroke="#f23645" stroke-width="1.15"/><rect x="1098.5" y="196.4" width="4.7" height="1.5" fill="#f23645"/><path d="M1106.7,189.7V197.9" stroke="#089981" stroke-width="1.15"/><rect x="1104.3" y="193.3" width="4.7" height="4.2" fill="#089981"/><path d="M1112.5,183.7V194.2" stroke="#089981" stroke-width="1.15"/><rect x="1110.2" y="191.9" width="4.7" height="2.3" fill="#089981"/><path d="M1118.3,190.6V207.8" stroke="#f23645" stroke-width="1.15"/><rect x="1116.0" y="191.9" width="4.7" height="15.0" fill="#f23645"/><path d="M1124.1,199.1V219.2" stroke="#f23645" stroke-width="1.15"/><rect x="1121.8" y="205.1" width="4.7" height="13.6" fill="#f23645"/><path d="M1130.0,206.0V220.9" stroke="#089981" stroke-width="1.15"/><rect x="1127.6" y="208.7" width="4.7" height="10.0" fill="#089981"/><path d="M1135.8,203.6V210.0" stroke="#089981" stroke-width="1.15"/><rect x="1133.4" y="204.2" width="4.7" height="5.4" fill="#089981"/><path d="M1141.6,195.7V210.0" stroke="#089981" stroke-width="1.15"/><rect x="1139.2" y="196.4" width="4.7" height="9.2" fill="#089981"/><path d="M1147.4,192.4V202.4" stroke="#f23645" stroke-width="1.15"/><rect x="1145.1" y="196.4" width="4.7" height="5.1" fill="#f23645"/><path d="M1153.2,166.2V201.5" stroke="#089981" stroke-width="1.15"/><rect x="1150.9" y="168.0" width="4.7" height="32.6" fill="#089981"/><path d="M1159.0,152.1V176.0" stroke="#089981" stroke-width="1.15"/><rect x="1156.7" y="161.4" width="4.7" height="7.2" fill="#089981"/><path d="M1164.8,160.6V174.3" stroke="#f23645" stroke-width="1.15"/><rect x="1162.5" y="161.2" width="4.7" height="12.9" fill="#f23645"/><path d="M1170.7,170.5V177.8" stroke="#089981" stroke-width="1.15"/><rect x="1168.3" y="172.0" width="4.7" height="2.5" fill="#089981"/><path d="M1176.5,169.6V174.7" stroke="#f23645" stroke-width="1.15"/><rect x="1174.1" y="171.8" width="4.7" height="1.1" fill="#f23645"/><path d="M1182.3,165.1V177.8" stroke="#089981" stroke-width="1.15"/><rect x="1179.9" y="167.8" width="4.7" height="4.9" fill="#089981"/><path d="M1188.1,156.0V170.5" stroke="#089981" stroke-width="1.15"/><rect x="1185.8" y="157.9" width="4.7" height="11.2" fill="#089981"/><path d="M1193.9,157.0V174.5" stroke="#f23645" stroke-width="1.15"/><rect x="1191.6" y="157.9" width="4.7" height="14.1" fill="#f23645"/><path d="M1199.7,165.1V182.8" stroke="#089981" stroke-width="1.15"/><rect x="1197.4" y="166.9" width="4.7" height="5.1" fill="#089981"/><path d="M1205.6,158.2V171.4" stroke="#089981" stroke-width="1.15"/><rect x="1203.2" y="159.1" width="4.7" height="9.1" fill="#089981"/><path d="M1211.4,154.8V160.9" stroke="#089981" stroke-width="1.15"/><rect x="1209.0" y="155.1" width="4.7" height="5.5" fill="#089981"/><path d="M1217.2,137.9V155.5" stroke="#089981" stroke-width="1.15"/><rect x="1214.8" y="139.4" width="4.7" height="16.1" fill="#089981"/><path d="M1223.0,122.9V148.8" stroke="#f23645" stroke-width="1.15"/><rect x="1220.7" y="139.7" width="4.7" height="8.7" fill="#f23645"/><path d="M1228.8,137.0V157.9" stroke="#089981" stroke-width="1.15"/><rect x="1226.5" y="147.0" width="4.7" height="1.3" fill="#089981"/><path d="M1234.6,131.2V153.7" stroke="#089981" stroke-width="1.15"/><rect x="1232.3" y="132.5" width="4.7" height="15.4" fill="#089981"/><path d="M1240.4,130.3V146.6" stroke="#f23645" stroke-width="1.15"/><rect x="1238.1" y="132.9" width="4.7" height="13.7" fill="#f23645"/><path d="M1246.3,142.1V150.6" stroke="#089981" stroke-width="1.15"/><rect x="1243.9" y="143.7" width="4.7" height="2.9" fill="#089981"/><path d="M1252.1,135.2V146.1" stroke="#089981" stroke-width="1.15"/><rect x="1249.7" y="142.8" width="4.7" height="2.0" fill="#089981"/><path d="M1257.9,138.5V148.5" stroke="#089981" stroke-width="1.15"/><rect x="1255.5" y="139.1" width="4.7" height="3.9" fill="#089981"/><path d="M1263.7,135.1V156.3" stroke="#f23645" stroke-width="1.15"/><rect x="1261.4" y="140.2" width="4.7" height="4.4" fill="#f23645"/><path d="M1269.5,137.1V152.4" stroke="#089981" stroke-width="1.15"/><rect x="1267.2" y="142.7" width="4.7" height="2.1" fill="#089981"/><path d="M1275.3,137.1V152.4" stroke="#f23645" stroke-width="1.15"/><rect x="1273.0" y="142.7" width="4.7" height="3.0" fill="#f23645"/><path d="M1281.2,141.6V148.0" stroke="#089981" stroke-width="1.15"/><rect x="1278.8" y="144.0" width="4.7" height="1.2" fill="#089981"/><path d="M1287.0,132.1V144.8" stroke="#089981" stroke-width="1.15"/><rect x="1284.6" y="132.1" width="4.7" height="12.7" fill="#089981"/><path d="M1292.8,116.1V133.7" stroke="#089981" stroke-width="1.15"/><rect x="1290.4" y="117.9" width="4.7" height="14.9" fill="#089981"/><path d="M1298.6,101.8V120.5" stroke="#089981" stroke-width="1.15"/><rect x="1296.3" y="114.0" width="4.7" height="4.8" fill="#089981"/><path d="M1304.4,93.2V118.8" stroke="#089981" stroke-width="1.15"/><rect x="1302.1" y="105.0" width="4.7" height="9.8" fill="#089981"/><path d="M1310.2,90.6V106.7" stroke="#089981" stroke-width="1.15"/><rect x="1307.9" y="92.8" width="4.7" height="12.8" fill="#089981"/><path d="M1316.0,88.8V94.6" stroke="#089981" stroke-width="1.15"/><rect x="1313.7" y="92.2" width="4.7" height="1.2" fill="#089981"/><path d="M1321.9,89.6V97.9" stroke="#089981" stroke-width="1.15"/><rect x="1319.5" y="91.8" width="4.7" height="6.1" fill="#089981"/><path d="M1327.7,66.8V92.2" stroke="#089981" stroke-width="1.15"/><rect x="1325.3" y="72.6" width="4.7" height="19.6" fill="#089981"/><path d="M1333.5,67.2V79.0" stroke="#f23645" stroke-width="1.15"/><rect x="1331.1" y="73.2" width="4.7" height="5.8" fill="#f23645"/><path d="M1339.3,76.3V84.0" stroke="#f23645" stroke-width="1.15"/><rect x="1337.0" y="78.1" width="4.7" height="4.9" fill="#f23645"/><path d="M1345.1,78.1V85.7" stroke="#089981" stroke-width="1.15"/><rect x="1342.8" y="79.9" width="4.7" height="3.1" fill="#089981"/><path d="M1350.9,78.4V83.1" stroke="#089981" stroke-width="1.15"/><rect x="1348.6" y="79.8" width="4.7" height="1.0" fill="#089981"/><path d="M1356.8,78.1V83.0" stroke="#089981" stroke-width="1.15"/><rect x="1354.4" y="79.0" width="4.7" height="1.2" fill="#089981"/><path d="M1362.6,69.9V79.9" stroke="#089981" stroke-width="1.15"/><rect x="1360.2" y="77.2" width="4.7" height="2.7" fill="#089981"/><path d="M1368.4,74.4V98.9" stroke="#f23645" stroke-width="1.15"/><rect x="1366.0" y="77.2" width="4.7" height="20.8" fill="#f23645"/><path d="M1374.2,84.9V98.0" stroke="#089981" stroke-width="1.15"/><rect x="1371.9" y="86.8" width="4.7" height="11.2" fill="#089981"/><path d="M1380.0,79.0V108.3" stroke="#f23645" stroke-width="1.15"/><rect x="1377.7" y="86.8" width="4.7" height="20.8" fill="#f23645"/><path d="M1385.8,102.0V107.9" stroke="#089981" stroke-width="1.15"/><rect x="1383.5" y="107.0" width="4.7" height="1.0" fill="#089981"/><path d="M1391.6,101.6V107.6" stroke="#089981" stroke-width="1.15"/><rect x="1389.3" y="102.9" width="4.7" height="4.7" fill="#089981"/><path d="M1397.5,98.9V118.8" stroke="#f23645" stroke-width="1.15"/><rect x="1395.1" y="102.1" width="4.7" height="14.5" fill="#f23645"/><path d="M1403.3,105.2V126.4" stroke="#089981" stroke-width="1.15"/><rect x="1400.9" y="109.4" width="4.7" height="7.6" fill="#089981"/><path d="M1409.1,101.8V110.6" stroke="#089981" stroke-width="1.15"/><rect x="1406.7" y="105.6" width="4.7" height="3.8" fill="#089981"/></g>
<line x1="0" y1="106.2" x2="1476" y2="106.2" stroke="#089981" stroke-width="1" stroke-dasharray="1 1.9"/>
</g>
<rect x="6" y="71.7" width="139" height="45.5" fill="#ffffff" fill-opacity="0.65"/>
<rect x="6" y="49" width="132.5" height="22.7" fill="#ffffff" fill-opacity="0.65"/>
<text x="8.7" y="20.7" font-size="14.2" fill="#131722" textLength="122.7" lengthAdjust="spacingAndGlyphs">GBP/USD Spot · 4h</text>
<circle cx="154.6" cy="15" r="8.5" fill="#089981" fill-opacity="0.18"/><circle cx="154.6" cy="15" r="3.8" fill="#089981"/>
<text x="177.7" y="20.0" font-size="12" fill="#131722" textLength="8.0" lengthAdjust="spacingAndGlyphs">O</text>
<text x="188.2" y="20.0" font-size="12" fill="#089981" textLength="42.0" lengthAdjust="spacingAndGlyphs">1.34992</text>
<text x="236.0" y="20.0" font-size="12" fill="#131722" textLength="7.8" lengthAdjust="spacingAndGlyphs">H</text>
<text x="246.1" y="20.0" font-size="12" fill="#089981" textLength="42.0" lengthAdjust="spacingAndGlyphs">1.35157</text>
<text x="293.8" y="20.0" font-size="12" fill="#131722" textLength="5.5" lengthAdjust="spacingAndGlyphs">L</text>
<text x="301.3" y="20.0" font-size="12" fill="#089981" textLength="42.0" lengthAdjust="spacingAndGlyphs">1.34965</text>
<text x="350.4" y="20.0" font-size="12" fill="#131722" textLength="7.2" lengthAdjust="spacingAndGlyphs">C</text>
<text x="359.5" y="20.0" font-size="12" fill="#089981" textLength="41.5" lengthAdjust="spacingAndGlyphs">1.35075</text>
<text x="407.2" y="20.0" font-size="12" fill="#089981" textLength="47.4" lengthAdjust="spacingAndGlyphs">+0.00091</text>
<text x="460.4" y="20.0" font-size="12" fill="#089981" textLength="45.7" lengthAdjust="spacingAndGlyphs">(+0.07%)</text>
<text x="8.6" y="42.1" font-size="12" fill="#131722" textLength="15.5" lengthAdjust="spacingAndGlyphs">MA</text>
<text x="28.6" y="42.1" font-size="12" fill="#5d606b" textLength="53.9" lengthAdjust="spacingAndGlyphs">20 close 0</text>
<text x="91.0" y="42.1" font-size="12" fill="#f23645" textLength="42.3" lengthAdjust="spacingAndGlyphs">1.35328</text>
<text x="8.6" y="65.0" font-size="12" fill="#131722" textLength="15.5" lengthAdjust="spacingAndGlyphs">MA</text>
<text x="28.6" y="65.0" font-size="12" fill="#5d606b" textLength="53.9" lengthAdjust="spacingAndGlyphs">50 close 0</text>
<text x="91.0" y="65.0" font-size="12" fill="#ff9800" textLength="42.3" lengthAdjust="spacingAndGlyphs">1.34437</text>
<text x="8.6" y="87.6" font-size="12" fill="#131722" textLength="15.5" lengthAdjust="spacingAndGlyphs">MA</text>
<text x="28.6" y="87.6" font-size="12" fill="#5d606b" textLength="60.1" lengthAdjust="spacingAndGlyphs">100 close 0</text>
<text x="97.2" y="87.6" font-size="12" fill="#4caf50" textLength="42.3" lengthAdjust="spacingAndGlyphs">1.33647</text>
<text x="8.6" y="110.3" font-size="12" fill="#131722" textLength="15.5" lengthAdjust="spacingAndGlyphs">MA</text>
<text x="28.6" y="110.3" font-size="12" fill="#5d606b" textLength="60.1" lengthAdjust="spacingAndGlyphs">200 close 0</text>
<text x="97.2" y="110.3" font-size="12" fill="#2962ff" textLength="42.3" lengthAdjust="spacingAndGlyphs">1.33335</text>
<rect x="8.5" y="119.5" width="27" height="18.5" rx="2.5" fill="#ffffff" stroke="#d1d4dc" stroke-width="1"/>
<path d="M18.2,131.2L22,127.4L25.8,131.2" fill="none" stroke="#131722" stroke-width="1.3"/>
<text x="1484.0" y="22.9" font-size="12" fill="#131722" textLength="38.7" lengthAdjust="spacingAndGlyphs">1.37000</text>
<text x="1484.0" y="67.8" font-size="12" fill="#131722" textLength="38.7" lengthAdjust="spacingAndGlyphs">1.36000</text>
<text x="1484.0" y="112.7" font-size="12" fill="#131722" textLength="38.7" lengthAdjust="spacingAndGlyphs">1.35000</text>
<text x="1484.0" y="157.6" font-size="12" fill="#131722" textLength="38.7" lengthAdjust="spacingAndGlyphs">1.34000</text>
<text x="1484.0" y="202.5" font-size="12" fill="#131722" textLength="38.7" lengthAdjust="spacingAndGlyphs">1.33000</text>
<text x="1484.0" y="247.4" font-size="12" fill="#131722" textLength="38.7" lengthAdjust="spacingAndGlyphs">1.32000</text>
<text x="1484.0" y="292.3" font-size="12" fill="#131722" textLength="38.7" lengthAdjust="spacingAndGlyphs">1.31000</text>
<text x="1484.0" y="337.2" font-size="12" fill="#131722" textLength="38.7" lengthAdjust="spacingAndGlyphs">1.30000</text>
<text x="1484.0" y="382.1" font-size="12" fill="#131722" textLength="38.7" lengthAdjust="spacingAndGlyphs">1.29000</text>
<text x="1484.0" y="427.0" font-size="12" fill="#131722" textLength="38.7" lengthAdjust="spacingAndGlyphs">1.28000</text>
<text x="1484.0" y="471.9" font-size="12" fill="#131722" textLength="38.7" lengthAdjust="spacingAndGlyphs">1.27000</text>
<path d="M1475.8,81.9h50.4a2,2 0 0 1 2,2v12.0a2,2 0 0 1 -2,2h-50.4z" fill="#f23645"/>
<text x="1483.9" y="94.1" font-size="11.6" fill="#ffffff" textLength="38.8" lengthAdjust="spacingAndGlyphs" stroke="#ffffff" stroke-width="0.3">1.35328</text>
<path d="M1475.8,97.9h50.4a2,2 0 0 1 2,2v12.0a2,2 0 0 1 -2,2h-50.4z" fill="#089981"/>
<text x="1483.9" y="110.1" font-size="11.6" fill="#ffffff" textLength="38.8" lengthAdjust="spacingAndGlyphs" stroke="#ffffff" stroke-width="0.3">1.35075</text>
<path d="M1475.8,126.4h50.4a2,2 0 0 1 2,2v12.0a2,2 0 0 1 -2,2h-50.4z" fill="#ff9800"/>
<text x="1483.9" y="138.6" font-size="11.6" fill="#131722" textLength="38.8" lengthAdjust="spacingAndGlyphs" stroke="#131722" stroke-width="0.3">1.34437</text>
<path d="M1475.8,150.1h50.4a2,2 0 0 1 2,2v11.9a2,2 0 0 1 -2,2h-50.4z" fill="#2a2e39"/>
<text x="1483.9" y="162.2" font-size="11.6" fill="#ffffff" textLength="38.8" lengthAdjust="spacingAndGlyphs" stroke="#ffffff" stroke-width="0.3">1.33903</text>
<path d="M1475.8,166.0h50.4a2,2 0 0 1 2,2v11.9a2,2 0 0 1 -2,2h-50.4z" fill="#4caf50"/>
<text x="1483.9" y="178.1" font-size="11.6" fill="#ffffff" textLength="38.8" lengthAdjust="spacingAndGlyphs" stroke="#ffffff" stroke-width="0.3">1.33647</text>
<path d="M1475.8,181.9h50.4a2,2 0 0 1 2,2v11.9a2,2 0 0 1 -2,2h-50.4z" fill="#2962ff"/>
<text x="1483.9" y="194.0" font-size="11.6" fill="#ffffff" textLength="38.8" lengthAdjust="spacingAndGlyphs" stroke="#ffffff" stroke-width="0.3">1.33335</text>
<rect x="0" y="504.9" width="1532" height="1.1" fill="#e0e3eb"/>
<g clip-path="url(#cr)">
<rect x="0" y="559.5" width="1476" height="106.5" fill="#7e57c2" fill-opacity="0.1"/>
<line x1="0" y1="559.5" x2="1476" y2="559.5" stroke="#787b86" stroke-width="1.5" stroke-dasharray="4.6 5.79" stroke-dashoffset="0.6"/>
<line x1="0" y1="612.8" x2="1476" y2="612.8" stroke="#787b86" stroke-width="1.5" stroke-dasharray="4.6 5.79" stroke-dashoffset="0.6"/>
<line x1="0" y1="666.0" x2="1476" y2="666.0" stroke="#787b86" stroke-width="1.5" stroke-dasharray="4.6 5.79" stroke-dashoffset="0.6"/>
<polyline points="1.8,525.1 7.6,564.4 13.4,578.2 19.2,575.9 25.1,571.9 30.9,612.3 36.7,608.3 42.5,635.3 48.3,648.4 54.1,643.6 59.9,635.6 65.8,641.1 71.6,638.1 77.4,654.1 83.2,671.7 89.0,672.9 94.8,666.7 100.7,649.6 106.5,654.6 112.3,644.1 118.1,646.4 123.9,644.1 129.7,639.1 135.5,627.1 141.4,633.3 147.2,639.8 153.0,641.1 158.8,626.1 164.6,616.5 170.4,607.8 176.2,597.7 182.1,582.7 187.9,580.2 193.7,572.2 199.5,566.7 205.3,556.9 211.1,550.6 217.0,547.1 222.8,566.9 228.6,560.9 234.4,558.4 240.2,559.4 246.0,554.6 251.8,543.1 257.7,541.6 263.5,542.6 269.3,539.6 275.1,550.4 280.9,545.4 286.7,540.3 292.6,538.3 298.4,545.9 304.2,544.6 310.0,543.3 315.8,536.1 321.6,532.1 327.4,541.3 333.3,560.6 339.1,565.2 344.9,568.7 350.7,581.4 356.5,570.9 362.3,580.4 368.2,569.7 374.0,566.7 379.8,566.2 385.6,565.4 391.4,568.4 397.2,565.2 403.0,564.1 408.9,558.4 414.7,555.9 420.5,548.4 426.3,529.6 432.1,523.8 437.9,536.3 443.8,549.4 449.6,554.1 455.4,552.6 461.2,544.6 467.0,566.4 472.8,566.7 478.6,569.9 484.5,600.2 490.3,630.3 496.1,619.8 501.9,612.8 507.7,616.5 513.5,635.8 519.4,630.1 525.2,630.1 531.0,627.1 536.8,613.5 542.6,605.3 548.4,607.3 554.2,591.0 560.1,597.7 565.9,619.8 571.7,614.3 577.5,608.5 583.3,597.7 589.1,603.5 595.0,604.5 600.8,620.8 606.6,617.5 612.4,611.5 618.2,592.7 624.0,570.7 629.8,556.4 635.7,559.6 641.5,573.4 647.3,570.4 653.1,593.0 658.9,588.5 664.7,585.2 670.5,581.9 676.4,598.2 682.2,598.2 688.0,613.3 693.8,621.5 699.6,627.8 705.4,632.3 711.3,641.1 717.1,637.8 722.9,625.6 728.7,648.1 734.5,644.1 740.3,639.6 746.1,624.3 752.0,629.6 757.8,632.3 763.6,638.6 769.4,640.3 775.2,642.6 781.0,644.1 786.9,628.6 792.7,633.3 798.5,607.8 804.3,627.8 810.1,620.8 815.9,622.0 821.7,619.0 827.6,603.2 833.4,577.9 839.2,579.7 845.0,574.7 850.8,593.5 856.6,597.7 862.5,594.5 868.3,597.7 874.1,601.5 879.9,629.8 885.7,633.6 891.5,601.0 897.3,627.8 903.2,610.8 909.0,626.6 914.8,641.6 920.6,643.6 926.4,645.9 932.2,629.6 938.1,622.3 943.9,605.5 949.7,607.3 955.5,609.0 961.3,619.8 967.1,616.8 972.9,657.9 978.8,654.1 984.6,647.1 990.4,650.6 996.2,651.1 1002.0,639.8 1007.8,632.8 1013.7,631.3 1019.5,601.5 1025.3,591.5 1031.1,592.2 1036.9,590.2 1042.7,582.7 1048.5,580.7 1054.4,599.7 1060.2,618.5 1066.0,617.3 1071.8,608.8 1077.6,615.3 1083.4,613.8 1089.3,604.0 1095.1,596.5 1100.9,597.5 1106.7,593.2 1112.5,591.7 1118.3,612.8 1124.1,626.6 1130.0,615.3 1135.8,608.5 1141.6,599.5 1147.4,604.2 1153.2,573.4 1159.0,568.9 1164.8,585.2 1170.7,583.4 1176.5,583.9 1182.3,580.2 1188.1,570.9 1193.9,590.5 1199.7,586.5 1205.6,579.4 1211.4,575.2 1217.2,563.4 1223.0,575.9 1228.8,575.2 1234.6,563.6 1240.4,583.2 1246.3,580.9 1252.1,578.9 1257.9,576.4 1263.7,585.5 1269.5,583.2 1275.3,588.2 1281.2,587.7 1287.0,572.7 1292.8,559.4 1298.6,556.4 1304.4,549.4 1310.2,541.3 1316.0,541.1 1321.9,540.3 1327.7,529.3 1333.5,541.3 1339.3,547.6 1345.1,546.6 1350.9,546.4 1356.8,545.6 1362.6,544.3 1368.4,588.2 1374.2,576.4 1380.0,608.3 1385.8,606.8 1391.6,602.0 1397.5,620.8 1403.3,611.5 1409.1,606.0" fill="none" stroke="#ab5ecf" stroke-width="1.3" stroke-linejoin="round"/>
</g>
<text x="8.7" y="525.2" font-size="12" fill="#131722" textLength="15.4" lengthAdjust="spacingAndGlyphs">RSI</text>
<text x="29.7" y="525.2" font-size="12" fill="#5d606b" textLength="11.7" lengthAdjust="spacingAndGlyphs">14</text>
<text x="49.5" y="525.2" font-size="12" fill="#a154c6" textLength="28.6" lengthAdjust="spacingAndGlyphs">52.31</text>
<text x="1483.0" y="536.7" font-size="12" fill="#131722" textLength="28.6" lengthAdjust="spacingAndGlyphs">80.00</text>
<text x="1483.0" y="589.9" font-size="12" fill="#131722" textLength="28.6" lengthAdjust="spacingAndGlyphs">60.00</text>
<text x="1483.0" y="643.2" font-size="12" fill="#131722" textLength="28.6" lengthAdjust="spacingAndGlyphs">40.00</text>
<path d="M1475.8,599.1h38.1a2,2 0 0 1 2,2v11.7a2,2 0 0 1 -2,2h-38.1z" fill="#9d55c3"/>
<text x="1483.4" y="611.2" font-size="11.6" fill="#ffffff" textLength="26.6" lengthAdjust="spacingAndGlyphs" stroke="#ffffff" stroke-width="0.3">52.31</text>
<circle cx="26.8" cy="661.4" r="15.2" fill="#ffffff" stroke="#e3e5ee" stroke-width="1.2"/>
<g fill="#131722"><path d="M17,657h7.9v9.9h-3.05v-6.7h-4.85z"/><circle cx="28.4" cy="658.6" r="1.6"/><path d="M32.5,657h4.4l-4.1,9.9h-4.4z"/></g>
<text x="25.1" y="705.5" font-size="12" fill="#131722" text-anchor="middle">4</text>
<text x="100.7" y="705.5" font-size="12" fill="#131722" text-anchor="middle">8</text>
<text x="205.3" y="705.5" font-size="12" fill="#131722" text-anchor="middle">11</text>
<text x="280.9" y="705.5" font-size="12" fill="#131722" text-anchor="middle">15</text>
<text x="385.6" y="705.5" font-size="12" fill="#131722" text-anchor="middle">18</text>
<text x="461.2" y="705.5" font-size="12" fill="#131722" text-anchor="middle">22</text>
<text x="565.9" y="705.5" font-size="12" fill="#131722" text-anchor="middle">25</text>
<text x="711.3" y="705.5" font-size="12" fill="#131722" text-anchor="middle" font-weight="bold" textLength="19.5" lengthAdjust="spacingAndGlyphs">May</text>
<text x="786.9" y="705.5" font-size="12" fill="#131722" text-anchor="middle">5</text>
<text x="891.5" y="705.5" font-size="12" fill="#131722" text-anchor="middle">8</text>
<text x="967.1" y="705.5" font-size="12" fill="#131722" text-anchor="middle">12</text>
<text x="1071.8" y="705.5" font-size="12" fill="#131722" text-anchor="middle">15</text>
<text x="1147.4" y="705.5" font-size="12" fill="#131722" text-anchor="middle">19</text>
<text x="1252.1" y="705.5" font-size="12" fill="#131722" text-anchor="middle">22</text>
<text x="1327.7" y="705.5" font-size="12" fill="#131722" text-anchor="middle">26</text>
<text x="1432.4" y="705.5" font-size="12" fill="#131722" text-anchor="middle">29</text>
<rect x="0" y="714.8" width="1532" height="1.1" fill="#e0e3eb"/>
<g fill="none" stroke="#2a2e39" stroke-width="1.3"><path d="M1498.1,702.7L1501.5,696.8H1508.5L1511.9,702.7L1508.5,708.6H1501.5Z" stroke-linejoin="round"/><circle cx="1505" cy="702.7" r="1.9"/></g>
</svg></body></html>
